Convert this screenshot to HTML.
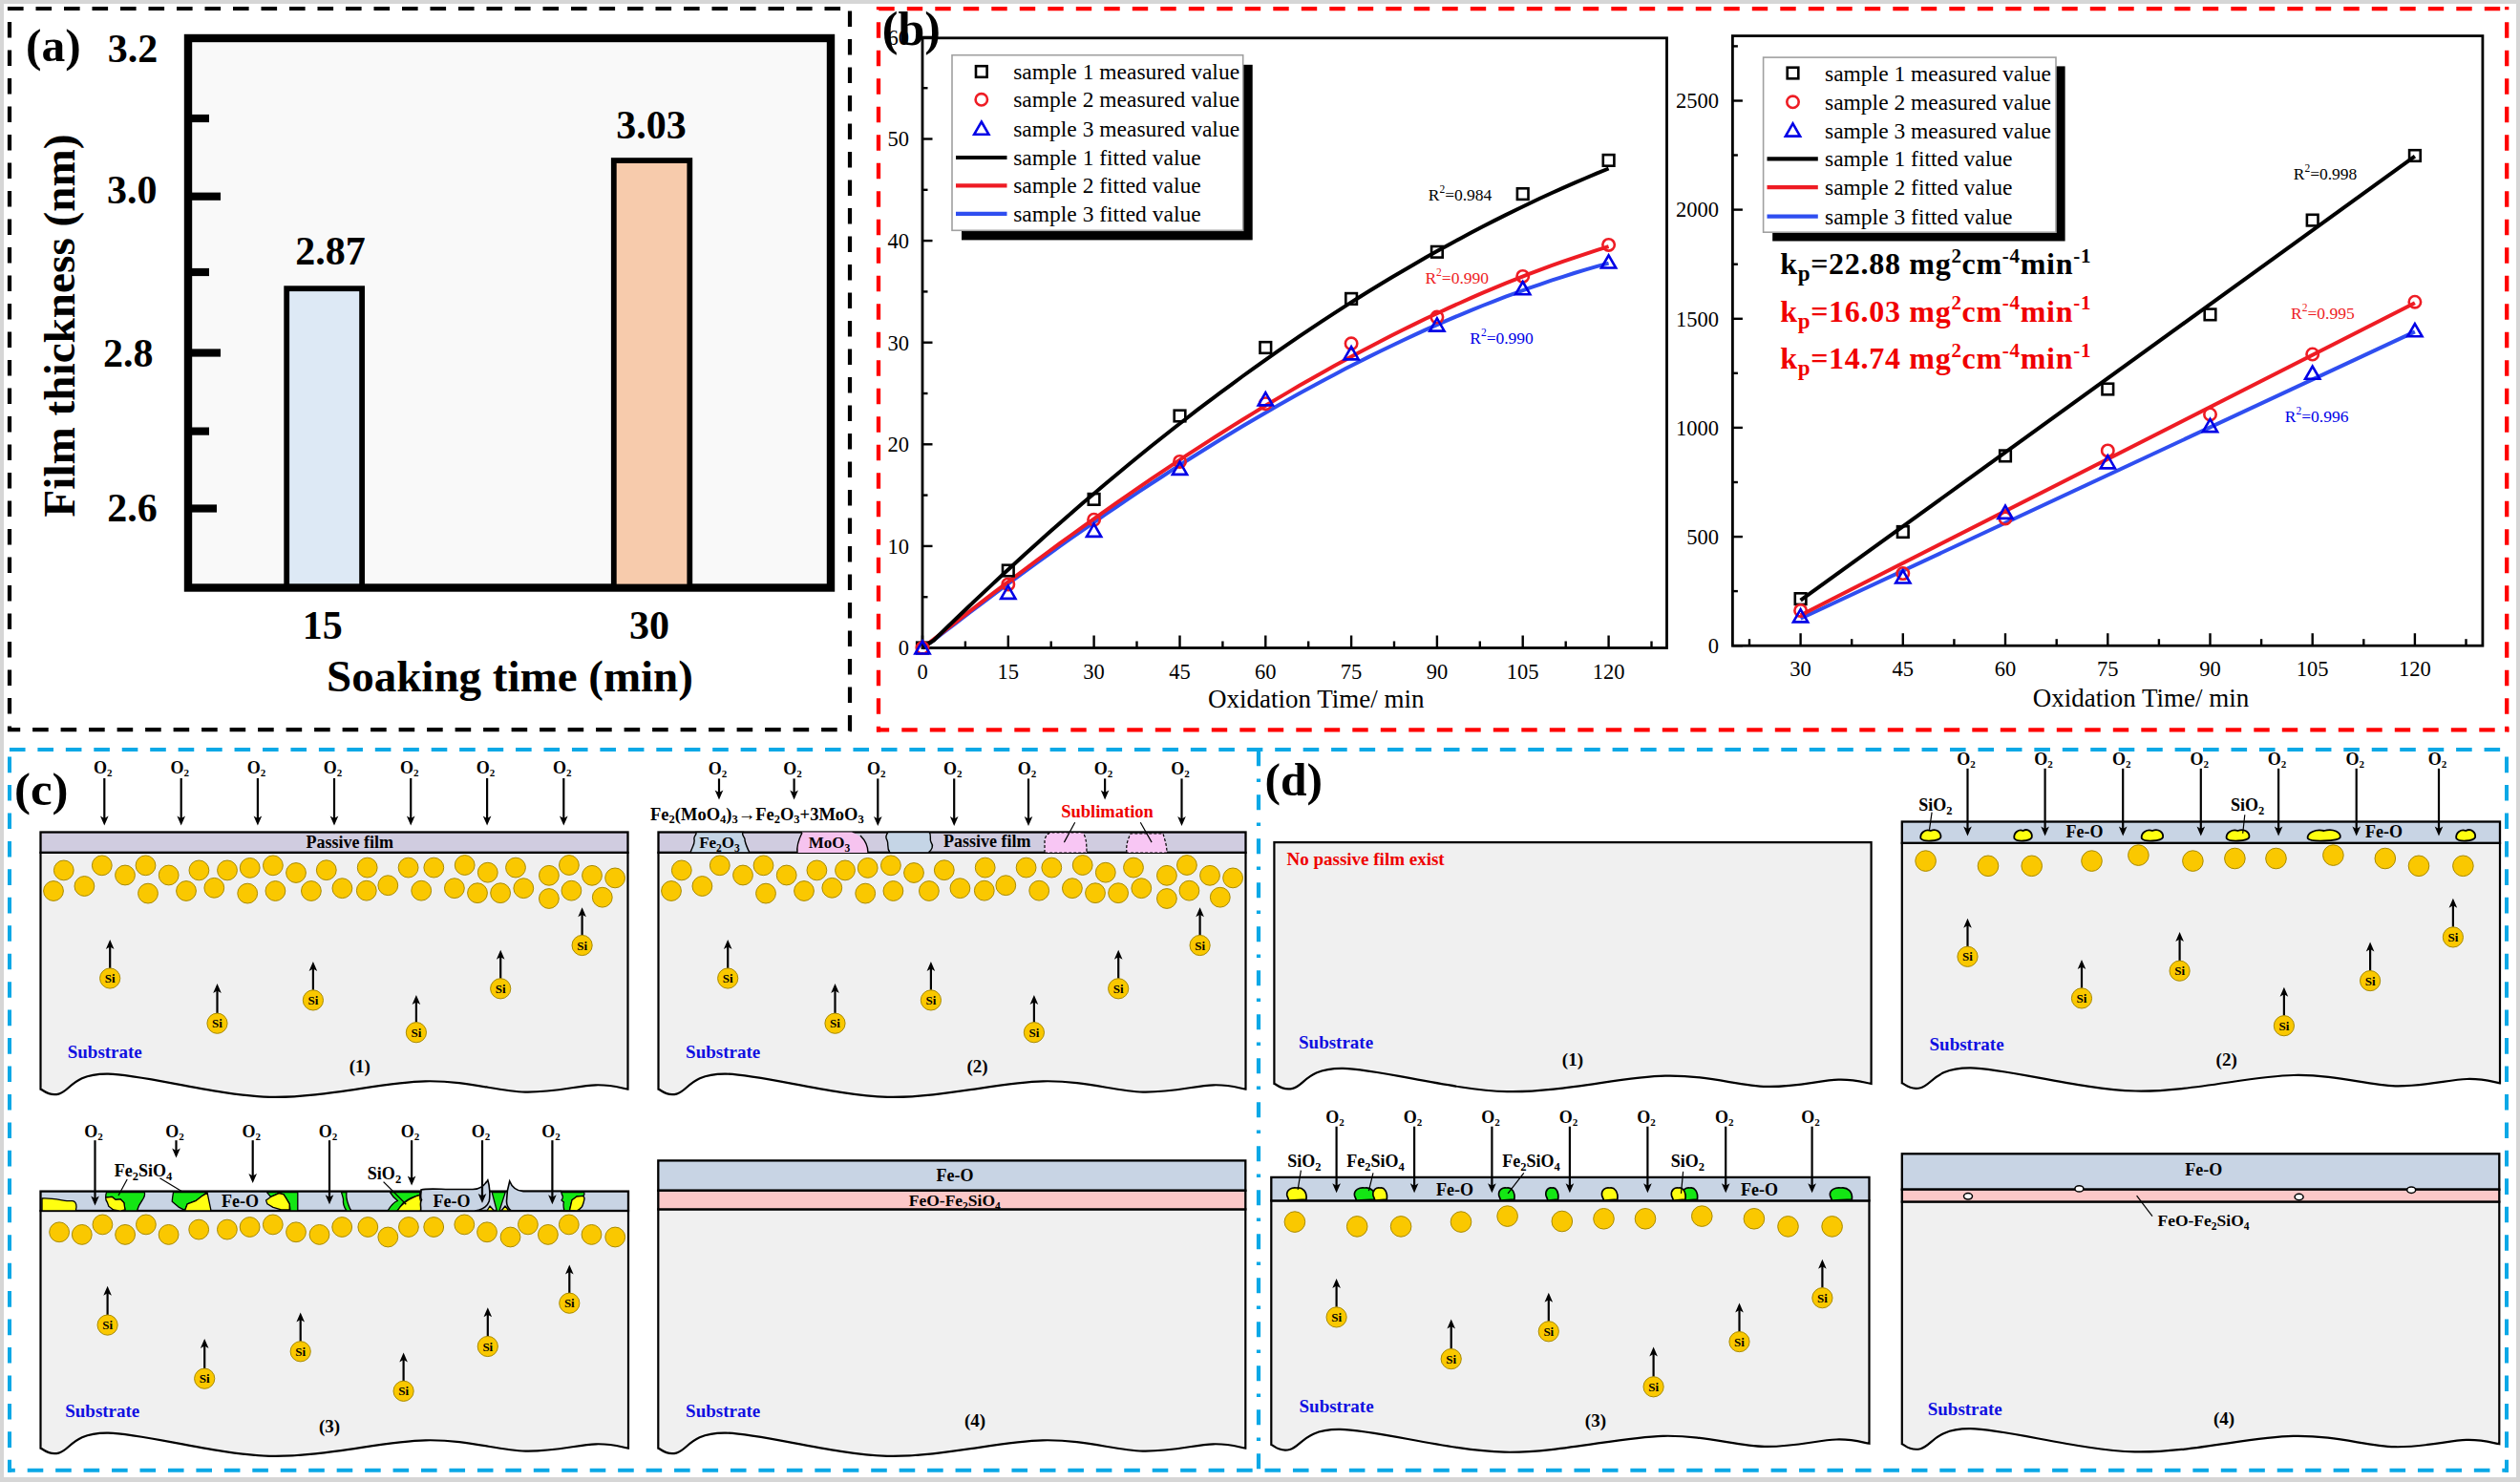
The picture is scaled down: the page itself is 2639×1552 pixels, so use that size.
<!DOCTYPE html>
<html><head><meta charset="utf-8"><style>
html,body{margin:0;padding:0;background:#fff;}
svg{display:block;}
text{font-family:"Liberation Serif","Times New Roman",serif;}
</style></head><body>
<svg width="2639" height="1552" viewBox="0 0 2639 1552">
<rect x="0" y="0" width="2639" height="1552" fill="#d6d6d6"/>
<rect x="4" y="4" width="2631" height="1543" fill="#fff"/>
<line x1="8" y1="9" x2="892" y2="9" stroke="#000" stroke-width="4.2" stroke-dasharray="16.6 12.9" stroke-dashoffset="0.00"/>
<line x1="8" y1="764.2" x2="892" y2="764.2" stroke="#000" stroke-width="4.2" stroke-dasharray="16.6 12.9" stroke-dashoffset="3.40"/>
<line x1="10" y1="7" x2="10" y2="766" stroke="#000" stroke-width="4.2" stroke-dasharray="16.6 12.9" stroke-dashoffset="13.50"/>
<line x1="890" y1="7" x2="890" y2="766.4" stroke="#000" stroke-width="4.2" stroke-dasharray="16.6 12.9" stroke-dashoffset="25.10"/>
<rect x="197" y="40" width="673" height="575.5" fill="#f9f9f9" stroke="#000" stroke-width="8.4"/>
<line x1="200" y1="124" x2="219" y2="124" stroke="#000" stroke-width="8.2"/>
<line x1="200" y1="205.7" x2="231" y2="205.7" stroke="#000" stroke-width="8.2"/>
<line x1="200" y1="285" x2="219" y2="285" stroke="#000" stroke-width="8.2"/>
<line x1="200" y1="369.5" x2="231" y2="369.5" stroke="#000" stroke-width="8.2"/>
<line x1="200" y1="451.6" x2="219" y2="451.6" stroke="#000" stroke-width="8.2"/>
<line x1="200" y1="532.5" x2="227" y2="532.5" stroke="#000" stroke-width="8.2"/>
<rect x="300.2" y="302.2" width="78.9" height="312" fill="#dde9f5" stroke="#000" stroke-width="5.8"/>
<rect x="642.8" y="168.1" width="79.5" height="446.4" fill="#f7cbac" stroke="#000" stroke-width="5.8"/>
<text x="139.0" y="65.3" font-size="42" font-weight="bold" fill="#000" text-anchor="middle" >3.2</text>
<text x="138.3" y="213.4" font-size="42" font-weight="bold" fill="#000" text-anchor="middle" >3.0</text>
<text x="134.3" y="384.3" font-size="42" font-weight="bold" fill="#000" text-anchor="middle" >2.8</text>
<text x="138.6" y="545.6" font-size="42" font-weight="bold" fill="#000" text-anchor="middle" >2.6</text>
<text x="346.0" y="277.0" font-size="42" font-weight="bold" fill="#000" text-anchor="middle" >2.87</text>
<text x="682.0" y="145.0" font-size="42" font-weight="bold" fill="#000" text-anchor="middle" >3.03</text>
<text x="337.8" y="669.0" font-size="42" font-weight="bold" fill="#000" text-anchor="middle" >15</text>
<text x="680.0" y="669.0" font-size="42" font-weight="bold" fill="#000" text-anchor="middle" >30</text>
<text x="534.0" y="724.3" font-size="47" font-weight="bold" fill="#000" text-anchor="middle" >Soaking time (min)</text>
<text transform="translate(78,341) rotate(-90)" x="0" y="0" font-size="47.2" font-weight="bold" text-anchor="middle">Film thickness (nm)</text>
<text x="27.0" y="64.4" font-size="49.5" font-weight="bold" fill="#000" text-anchor="start" >(a)</text>
<line x1="918" y1="9.1" x2="2627.4" y2="9.1" stroke="#ff0000" stroke-width="4.3" stroke-dasharray="16.4 13.1" stroke-dashoffset="27.20"/>
<line x1="918" y1="764.4" x2="2627.4" y2="764.4" stroke="#ff0000" stroke-width="4.3" stroke-dasharray="16.4 13.1" stroke-dashoffset="3.20"/>
<line x1="920" y1="7" x2="920" y2="766.6" stroke="#ff0000" stroke-width="4.3" stroke-dasharray="16.4 13.1" stroke-dashoffset="13.20"/>
<line x1="2625.2" y1="7" x2="2625.2" y2="766.6" stroke="#ff0000" stroke-width="4.3" stroke-dasharray="16.4 13.1" stroke-dashoffset="13.20"/>
<rect x="966" y="39.8" width="779.5" height="638.7" fill="none" stroke="#000" stroke-width="2.8"/>
<line x1="966.0" y1="678.5" x2="966.0" y2="665.5" stroke="#000" stroke-width="2.4"/>
<text x="966.0" y="710.5" font-size="22.5" font-weight="normal" fill="#000" text-anchor="middle" >0</text>
<line x1="1010.9" y1="678.5" x2="1010.9" y2="671.5" stroke="#000" stroke-width="2.4"/>
<line x1="1055.8" y1="678.5" x2="1055.8" y2="665.5" stroke="#000" stroke-width="2.4"/>
<text x="1055.8" y="710.5" font-size="22.5" font-weight="normal" fill="#000" text-anchor="middle" >15</text>
<line x1="1100.7" y1="678.5" x2="1100.7" y2="671.5" stroke="#000" stroke-width="2.4"/>
<line x1="1145.6" y1="678.5" x2="1145.6" y2="665.5" stroke="#000" stroke-width="2.4"/>
<text x="1145.6" y="710.5" font-size="22.5" font-weight="normal" fill="#000" text-anchor="middle" >30</text>
<line x1="1190.5" y1="678.5" x2="1190.5" y2="671.5" stroke="#000" stroke-width="2.4"/>
<line x1="1235.5" y1="678.5" x2="1235.5" y2="665.5" stroke="#000" stroke-width="2.4"/>
<text x="1235.5" y="710.5" font-size="22.5" font-weight="normal" fill="#000" text-anchor="middle" >45</text>
<line x1="1280.4" y1="678.5" x2="1280.4" y2="671.5" stroke="#000" stroke-width="2.4"/>
<line x1="1325.3" y1="678.5" x2="1325.3" y2="665.5" stroke="#000" stroke-width="2.4"/>
<text x="1325.3" y="710.5" font-size="22.5" font-weight="normal" fill="#000" text-anchor="middle" >60</text>
<line x1="1370.2" y1="678.5" x2="1370.2" y2="671.5" stroke="#000" stroke-width="2.4"/>
<line x1="1415.1" y1="678.5" x2="1415.1" y2="665.5" stroke="#000" stroke-width="2.4"/>
<text x="1415.1" y="710.5" font-size="22.5" font-weight="normal" fill="#000" text-anchor="middle" >75</text>
<line x1="1460.0" y1="678.5" x2="1460.0" y2="671.5" stroke="#000" stroke-width="2.4"/>
<line x1="1504.9" y1="678.5" x2="1504.9" y2="665.5" stroke="#000" stroke-width="2.4"/>
<text x="1504.9" y="710.5" font-size="22.5" font-weight="normal" fill="#000" text-anchor="middle" >90</text>
<line x1="1549.8" y1="678.5" x2="1549.8" y2="671.5" stroke="#000" stroke-width="2.4"/>
<line x1="1594.7" y1="678.5" x2="1594.7" y2="665.5" stroke="#000" stroke-width="2.4"/>
<text x="1594.7" y="710.5" font-size="22.5" font-weight="normal" fill="#000" text-anchor="middle" >105</text>
<line x1="1639.7" y1="678.5" x2="1639.7" y2="671.5" stroke="#000" stroke-width="2.4"/>
<line x1="1684.6" y1="678.5" x2="1684.6" y2="665.5" stroke="#000" stroke-width="2.4"/>
<text x="1684.6" y="710.5" font-size="22.5" font-weight="normal" fill="#000" text-anchor="middle" >120</text>
<line x1="1729.5" y1="678.5" x2="1729.5" y2="671.5" stroke="#000" stroke-width="2.4"/>
<line x1="966" y1="678.5" x2="976.5" y2="678.5" stroke="#000" stroke-width="2.4"/>
<text x="952.0" y="686.3" font-size="22.5" font-weight="normal" fill="#000" text-anchor="end" >0</text>
<line x1="966" y1="625.2" x2="971.5" y2="625.2" stroke="#000" stroke-width="2.4"/>
<line x1="966" y1="571.9" x2="976.5" y2="571.9" stroke="#000" stroke-width="2.4"/>
<text x="952.0" y="579.7" font-size="22.5" font-weight="normal" fill="#000" text-anchor="end" >10</text>
<line x1="966" y1="518.6" x2="971.5" y2="518.6" stroke="#000" stroke-width="2.4"/>
<line x1="966" y1="465.3" x2="976.5" y2="465.3" stroke="#000" stroke-width="2.4"/>
<text x="952.0" y="473.1" font-size="22.5" font-weight="normal" fill="#000" text-anchor="end" >20</text>
<line x1="966" y1="412.0" x2="971.5" y2="412.0" stroke="#000" stroke-width="2.4"/>
<line x1="966" y1="358.7" x2="976.5" y2="358.7" stroke="#000" stroke-width="2.4"/>
<text x="952.0" y="366.5" font-size="22.5" font-weight="normal" fill="#000" text-anchor="end" >30</text>
<line x1="966" y1="305.4" x2="971.5" y2="305.4" stroke="#000" stroke-width="2.4"/>
<line x1="966" y1="252.1" x2="976.5" y2="252.1" stroke="#000" stroke-width="2.4"/>
<text x="952.0" y="259.9" font-size="22.5" font-weight="normal" fill="#000" text-anchor="end" >40</text>
<line x1="966" y1="198.8" x2="971.5" y2="198.8" stroke="#000" stroke-width="2.4"/>
<line x1="966" y1="145.5" x2="976.5" y2="145.5" stroke="#000" stroke-width="2.4"/>
<text x="952.0" y="153.3" font-size="22.5" font-weight="normal" fill="#000" text-anchor="end" >50</text>
<line x1="966" y1="92.2" x2="971.5" y2="92.2" stroke="#000" stroke-width="2.4"/>
<line x1="966" y1="38.9" x2="976.5" y2="38.9" stroke="#000" stroke-width="2.4"/>
<text x="952.0" y="46.7" font-size="22.5" font-weight="normal" fill="#000" text-anchor="end" >60</text>
<text x="1378.2" y="741.4" font-size="27" font-weight="normal" fill="#000" text-anchor="middle" >Oxidation Time/ min</text>
<path d="M966.0,678.5 L978.0,670.2 L990.0,661.0 L1001.9,651.8 L1013.9,642.7 L1025.9,633.6 L1037.9,624.7 L1049.8,615.7 L1061.8,606.9 L1073.8,598.1 L1085.8,589.4 L1097.7,580.8 L1109.7,572.2 L1121.7,563.7 L1133.7,555.3 L1145.6,547.0 L1157.6,538.7 L1169.6,530.5 L1181.6,522.4 L1193.5,514.4 L1205.5,506.5 L1217.5,498.7 L1229.5,490.9 L1241.4,483.2 L1253.4,475.7 L1265.4,468.2 L1277.4,460.8 L1289.4,453.5 L1301.3,446.3 L1313.3,439.2 L1325.3,432.2 L1337.3,425.3 L1349.2,418.5 L1361.2,411.8 L1373.2,405.2 L1385.2,398.8 L1397.1,392.4 L1409.1,386.1 L1421.1,380.0 L1433.1,373.9 L1445.0,368.0 L1457.0,362.2 L1469.0,356.5 L1481.0,350.9 L1492.9,345.4 L1504.9,340.1 L1516.9,334.9 L1528.9,329.8 L1540.8,324.8 L1552.8,320.0 L1564.8,315.3 L1576.8,310.7 L1588.8,306.3 L1600.7,301.9 L1612.7,297.8 L1624.7,293.7 L1636.7,289.8 L1648.6,286.0 L1660.6,282.4 L1672.6,278.9 L1684.6,275.6" fill="none" stroke="#2f4ef0" stroke-width="4" stroke-linejoin="round"/>
<path d="M966.0,678.5 L978.0,669.4 L990.0,660.0 L1001.9,650.7 L1013.9,641.4 L1025.9,632.1 L1037.9,622.9 L1049.8,613.8 L1061.8,604.8 L1073.8,595.8 L1085.8,586.9 L1097.7,578.0 L1109.7,569.2 L1121.7,560.5 L1133.7,551.9 L1145.6,543.3 L1157.6,534.8 L1169.6,526.4 L1181.6,518.1 L1193.5,509.9 L1205.5,501.7 L1217.5,493.6 L1229.5,485.6 L1241.4,477.7 L1253.4,469.9 L1265.4,462.1 L1277.4,454.5 L1289.4,446.9 L1301.3,439.5 L1313.3,432.1 L1325.3,424.8 L1337.3,417.6 L1349.2,410.6 L1361.2,403.6 L1373.2,396.7 L1385.2,389.9 L1397.1,383.3 L1409.1,376.7 L1421.1,370.2 L1433.1,363.9 L1445.0,357.7 L1457.0,351.5 L1469.0,345.5 L1481.0,339.6 L1492.9,333.8 L1504.9,328.2 L1516.9,322.6 L1528.9,317.2 L1540.8,311.9 L1552.8,306.7 L1564.8,301.6 L1576.8,296.7 L1588.8,291.9 L1600.7,287.2 L1612.7,282.6 L1624.7,278.2 L1636.7,273.9 L1648.6,269.8 L1660.6,265.8 L1672.6,261.9 L1684.6,258.1" fill="none" stroke="#ee1c24" stroke-width="4" stroke-linejoin="round"/>
<path d="M966.0,678.5 L978.0,670.5 L990.0,658.8 L1001.9,647.2 L1013.9,635.8 L1025.9,624.4 L1037.9,613.1 L1049.8,602.0 L1061.8,591.0 L1073.8,580.1 L1085.8,569.2 L1097.7,558.6 L1109.7,548.0 L1121.7,537.5 L1133.7,527.1 L1145.6,516.9 L1157.6,506.7 L1169.6,496.7 L1181.6,486.8 L1193.5,477.0 L1205.5,467.3 L1217.5,457.8 L1229.5,448.3 L1241.4,439.0 L1253.4,429.7 L1265.4,420.6 L1277.4,411.6 L1289.4,402.8 L1301.3,394.0 L1313.3,385.4 L1325.3,376.8 L1337.3,368.4 L1349.2,360.1 L1361.2,351.9 L1373.2,343.9 L1385.2,335.9 L1397.1,328.1 L1409.1,320.4 L1421.1,312.8 L1433.1,305.3 L1445.0,298.0 L1457.0,290.8 L1469.0,283.7 L1481.0,276.7 L1492.9,269.8 L1504.9,263.1 L1516.9,256.4 L1528.9,249.9 L1540.8,243.5 L1552.8,237.3 L1564.8,231.1 L1576.8,225.1 L1588.8,219.2 L1600.7,213.5 L1612.7,207.8 L1624.7,202.3 L1636.7,196.9 L1648.6,191.6 L1660.6,186.5 L1672.6,181.4 L1684.6,176.5" fill="none" stroke="#000" stroke-width="4" stroke-linejoin="round"/>
<rect x="960.2" y="672.7" width="11.6" height="11.6" fill="none" stroke="#000" stroke-width="2.6"/>
<rect x="1050.0" y="591.7" width="11.6" height="11.6" fill="none" stroke="#000" stroke-width="2.6"/>
<rect x="1139.8" y="517.1" width="11.6" height="11.6" fill="none" stroke="#000" stroke-width="2.6"/>
<rect x="1229.7" y="429.7" width="11.6" height="11.6" fill="none" stroke="#000" stroke-width="2.6"/>
<rect x="1319.5" y="358.2" width="11.6" height="11.6" fill="none" stroke="#000" stroke-width="2.6"/>
<rect x="1409.3" y="307.1" width="11.6" height="11.6" fill="none" stroke="#000" stroke-width="2.6"/>
<rect x="1499.1" y="258.0" width="11.6" height="11.6" fill="none" stroke="#000" stroke-width="2.6"/>
<rect x="1588.9" y="197.3" width="11.6" height="11.6" fill="none" stroke="#000" stroke-width="2.6"/>
<rect x="1678.8" y="162.1" width="11.6" height="11.6" fill="none" stroke="#000" stroke-width="2.6"/>
<circle cx="966.0" cy="678.5" r="6.2" fill="none" stroke="#ee1c24" stroke-width="2.6"/>
<circle cx="1055.8" cy="611.9" r="6.2" fill="none" stroke="#ee1c24" stroke-width="2.6"/>
<circle cx="1145.6" cy="544.2" r="6.2" fill="none" stroke="#ee1c24" stroke-width="2.6"/>
<circle cx="1235.5" cy="483.4" r="6.2" fill="none" stroke="#ee1c24" stroke-width="2.6"/>
<circle cx="1325.3" cy="422.7" r="6.2" fill="none" stroke="#ee1c24" stroke-width="2.6"/>
<circle cx="1415.1" cy="359.8" r="6.2" fill="none" stroke="#ee1c24" stroke-width="2.6"/>
<circle cx="1504.9" cy="332.1" r="6.2" fill="none" stroke="#ee1c24" stroke-width="2.6"/>
<circle cx="1594.7" cy="289.4" r="6.2" fill="none" stroke="#ee1c24" stroke-width="2.6"/>
<circle cx="1684.6" cy="256.4" r="6.2" fill="none" stroke="#ee1c24" stroke-width="2.6"/>
<path d="M966.0,671.3 L973.6,684.5 L958.4,684.5 Z" fill="none" stroke="#0000e6" stroke-width="2.6" stroke-linejoin="miter"/>
<path d="M1055.8,613.7 L1063.4,626.9 L1048.2,626.9 Z" fill="none" stroke="#0000e6" stroke-width="2.6" stroke-linejoin="miter"/>
<path d="M1145.6,548.7 L1153.2,561.9 L1138.0,561.9 Z" fill="none" stroke="#0000e6" stroke-width="2.6" stroke-linejoin="miter"/>
<path d="M1235.5,483.7 L1243.1,496.9 L1227.9,496.9 Z" fill="none" stroke="#0000e6" stroke-width="2.6" stroke-linejoin="miter"/>
<path d="M1325.3,411.2 L1332.9,424.4 L1317.7,424.4 Z" fill="none" stroke="#0000e6" stroke-width="2.6" stroke-linejoin="miter"/>
<path d="M1415.1,363.2 L1422.7,376.4 L1407.5,376.4 Z" fill="none" stroke="#0000e6" stroke-width="2.6" stroke-linejoin="miter"/>
<path d="M1504.9,333.4 L1512.5,346.6 L1497.3,346.6 Z" fill="none" stroke="#0000e6" stroke-width="2.6" stroke-linejoin="miter"/>
<path d="M1594.7,295.0 L1602.3,308.2 L1587.1,308.2 Z" fill="none" stroke="#0000e6" stroke-width="2.6" stroke-linejoin="miter"/>
<path d="M1684.6,267.3 L1692.2,280.5 L1677.0,280.5 Z" fill="none" stroke="#0000e6" stroke-width="2.6" stroke-linejoin="miter"/>
<rect x="1007" y="67.8" width="304.70000000000005" height="183.60000000000002" fill="#000"/>
<rect x="997" y="57.7" width="304.70000000000005" height="183.60000000000002" fill="#fff" stroke="#a0a0a0" stroke-width="1.6"/>
<text x="1061.2" y="83.0" font-size="23.5" font-weight="normal" fill="#000" text-anchor="start" >sample 1 measured value</text>
<rect x="1022.0" y="69.2" width="11.6" height="11.6" fill="none" stroke="#000" stroke-width="2.6"/>
<text x="1061.2" y="112.3" font-size="23.5" font-weight="normal" fill="#000" text-anchor="start" >sample 2 measured value</text>
<circle cx="1027.8" cy="104.3" r="6.2" fill="none" stroke="#ee1c24" stroke-width="2.6"/>
<text x="1061.2" y="142.7" font-size="23.5" font-weight="normal" fill="#000" text-anchor="start" >sample 3 measured value</text>
<path d="M1027.8,127.5 L1035.4,140.7 L1020.2,140.7 Z" fill="none" stroke="#0000e6" stroke-width="2.6" stroke-linejoin="miter"/>
<text x="1061.2" y="173.0" font-size="23.5" font-weight="normal" fill="#000" text-anchor="start" >sample 1 fitted value</text>
<line x1="1001" y1="165" x2="1054.5" y2="165" stroke="#000" stroke-width="4.2"/>
<text x="1061.2" y="202.4" font-size="23.5" font-weight="normal" fill="#000" text-anchor="start" >sample 2 fitted value</text>
<line x1="1001" y1="194.4" x2="1054.5" y2="194.4" stroke="#ee1c24" stroke-width="4.2"/>
<text x="1061.2" y="231.8" font-size="23.5" font-weight="normal" fill="#000" text-anchor="start" >sample 3 fitted value</text>
<line x1="1001" y1="223.8" x2="1054.5" y2="223.8" stroke="#2f4ef0" stroke-width="4.2"/>
<text x="1495.7" y="210.3" font-size="17.5" font-weight="normal" fill="#000" text-anchor="start" >R<tspan dy="-8" font-size="11.5">2</tspan><tspan dy="8">=0.984</tspan></text>
<text x="1492.4" y="296.5" font-size="17.5" font-weight="normal" fill="#ee1c24" text-anchor="start" >R<tspan dy="-8" font-size="11.5">2</tspan><tspan dy="8">=0.990</tspan></text>
<text x="1539.2" y="360.0" font-size="17.5" font-weight="normal" fill="#0000e6" text-anchor="start" >R<tspan dy="-8" font-size="11.5">2</tspan><tspan dy="8">=0.990</tspan></text>
<rect x="1814.4" y="37.6" width="785.5" height="638.6" fill="none" stroke="#000" stroke-width="2.8"/>
<line x1="1832.0" y1="676.2" x2="1832.0" y2="669.2" stroke="#000" stroke-width="2.4"/>
<line x1="1885.6" y1="676.2" x2="1885.6" y2="663.2" stroke="#000" stroke-width="2.4"/>
<text x="1885.6" y="708.2" font-size="22.5" font-weight="normal" fill="#000" text-anchor="middle" >30</text>
<line x1="1939.2" y1="676.2" x2="1939.2" y2="669.2" stroke="#000" stroke-width="2.4"/>
<line x1="1992.8" y1="676.2" x2="1992.8" y2="663.2" stroke="#000" stroke-width="2.4"/>
<text x="1992.8" y="708.2" font-size="22.5" font-weight="normal" fill="#000" text-anchor="middle" >45</text>
<line x1="2046.4" y1="676.2" x2="2046.4" y2="669.2" stroke="#000" stroke-width="2.4"/>
<line x1="2100.0" y1="676.2" x2="2100.0" y2="663.2" stroke="#000" stroke-width="2.4"/>
<text x="2100.0" y="708.2" font-size="22.5" font-weight="normal" fill="#000" text-anchor="middle" >60</text>
<line x1="2153.7" y1="676.2" x2="2153.7" y2="669.2" stroke="#000" stroke-width="2.4"/>
<line x1="2207.3" y1="676.2" x2="2207.3" y2="663.2" stroke="#000" stroke-width="2.4"/>
<text x="2207.3" y="708.2" font-size="22.5" font-weight="normal" fill="#000" text-anchor="middle" >75</text>
<line x1="2260.9" y1="676.2" x2="2260.9" y2="669.2" stroke="#000" stroke-width="2.4"/>
<line x1="2314.5" y1="676.2" x2="2314.5" y2="663.2" stroke="#000" stroke-width="2.4"/>
<text x="2314.5" y="708.2" font-size="22.5" font-weight="normal" fill="#000" text-anchor="middle" >90</text>
<line x1="2368.1" y1="676.2" x2="2368.1" y2="669.2" stroke="#000" stroke-width="2.4"/>
<line x1="2421.7" y1="676.2" x2="2421.7" y2="663.2" stroke="#000" stroke-width="2.4"/>
<text x="2421.7" y="708.2" font-size="22.5" font-weight="normal" fill="#000" text-anchor="middle" >105</text>
<line x1="2475.3" y1="676.2" x2="2475.3" y2="669.2" stroke="#000" stroke-width="2.4"/>
<line x1="2528.9" y1="676.2" x2="2528.9" y2="663.2" stroke="#000" stroke-width="2.4"/>
<text x="2528.9" y="708.2" font-size="22.5" font-weight="normal" fill="#000" text-anchor="middle" >120</text>
<line x1="2582.5" y1="676.2" x2="2582.5" y2="669.2" stroke="#000" stroke-width="2.4"/>
<line x1="1814.4" y1="676.2" x2="1824.9" y2="676.2" stroke="#000" stroke-width="2.4"/>
<text x="1800.0" y="684.0" font-size="22.5" font-weight="normal" fill="#000" text-anchor="end" >0</text>
<line x1="1814.4" y1="619.1" x2="1819.9" y2="619.1" stroke="#000" stroke-width="2.4"/>
<line x1="1814.4" y1="562.1" x2="1824.9" y2="562.1" stroke="#000" stroke-width="2.4"/>
<text x="1800.0" y="569.9" font-size="22.5" font-weight="normal" fill="#000" text-anchor="end" >500</text>
<line x1="1814.4" y1="505.0" x2="1819.9" y2="505.0" stroke="#000" stroke-width="2.4"/>
<line x1="1814.4" y1="447.9" x2="1824.9" y2="447.9" stroke="#000" stroke-width="2.4"/>
<text x="1800.0" y="455.7" font-size="22.5" font-weight="normal" fill="#000" text-anchor="end" >1000</text>
<line x1="1814.4" y1="390.8" x2="1819.9" y2="390.8" stroke="#000" stroke-width="2.4"/>
<line x1="1814.4" y1="333.8" x2="1824.9" y2="333.8" stroke="#000" stroke-width="2.4"/>
<text x="1800.0" y="341.6" font-size="22.5" font-weight="normal" fill="#000" text-anchor="end" >1500</text>
<line x1="1814.4" y1="276.7" x2="1819.9" y2="276.7" stroke="#000" stroke-width="2.4"/>
<line x1="1814.4" y1="219.6" x2="1824.9" y2="219.6" stroke="#000" stroke-width="2.4"/>
<text x="1800.0" y="227.4" font-size="22.5" font-weight="normal" fill="#000" text-anchor="end" >2000</text>
<line x1="1814.4" y1="162.5" x2="1819.9" y2="162.5" stroke="#000" stroke-width="2.4"/>
<line x1="1814.4" y1="105.5" x2="1824.9" y2="105.5" stroke="#000" stroke-width="2.4"/>
<text x="1800.0" y="113.3" font-size="22.5" font-weight="normal" fill="#000" text-anchor="end" >2500</text>
<line x1="1814.4" y1="48.4" x2="1819.9" y2="48.4" stroke="#000" stroke-width="2.4"/>
<text x="2242.0" y="739.8" font-size="27" font-weight="normal" fill="#000" text-anchor="middle" >Oxidation Time/ min</text>
<line x1="1885.6" y1="647.7" x2="2528.9" y2="347.4" stroke="#2f4ef0" stroke-width="4"/>
<line x1="1885.6" y1="644.2" x2="2528.9" y2="317.3" stroke="#ee1c24" stroke-width="4"/>
<line x1="1885.6" y1="628.7" x2="2528.9" y2="163.7" stroke="#000" stroke-width="4"/>
<rect x="1879.8" y="621.3" width="11.6" height="11.6" fill="none" stroke="#000" stroke-width="2.6"/>
<rect x="1987.0" y="551.2" width="11.6" height="11.6" fill="none" stroke="#000" stroke-width="2.6"/>
<rect x="2094.2" y="471.6" width="11.6" height="11.6" fill="none" stroke="#000" stroke-width="2.6"/>
<rect x="2201.5" y="401.7" width="11.6" height="11.6" fill="none" stroke="#000" stroke-width="2.6"/>
<rect x="2308.7" y="323.6" width="11.6" height="11.6" fill="none" stroke="#000" stroke-width="2.6"/>
<rect x="2415.9" y="224.8" width="11.6" height="11.6" fill="none" stroke="#000" stroke-width="2.6"/>
<rect x="2523.1" y="157.2" width="11.6" height="11.6" fill="none" stroke="#000" stroke-width="2.6"/>
<circle cx="1885.6" cy="639.4" r="6.2" fill="none" stroke="#ee1c24" stroke-width="2.6"/>
<circle cx="1992.8" cy="600.6" r="6.2" fill="none" stroke="#ee1c24" stroke-width="2.6"/>
<circle cx="2100.0" cy="542.9" r="6.2" fill="none" stroke="#ee1c24" stroke-width="2.6"/>
<circle cx="2207.3" cy="471.9" r="6.2" fill="none" stroke="#ee1c24" stroke-width="2.6"/>
<circle cx="2314.5" cy="434.0" r="6.2" fill="none" stroke="#ee1c24" stroke-width="2.6"/>
<circle cx="2421.7" cy="371.0" r="6.2" fill="none" stroke="#ee1c24" stroke-width="2.6"/>
<circle cx="2528.9" cy="316.2" r="6.2" fill="none" stroke="#ee1c24" stroke-width="2.6"/>
<path d="M1885.6,638.2 L1893.2,651.4 L1878.0,651.4 Z" fill="none" stroke="#0000e6" stroke-width="2.6" stroke-linejoin="miter"/>
<path d="M1992.8,597.3 L2000.4,610.5 L1985.2,610.5 Z" fill="none" stroke="#0000e6" stroke-width="2.6" stroke-linejoin="miter"/>
<path d="M2100.0,529.7 L2107.6,542.9 L2092.4,542.9 Z" fill="none" stroke="#0000e6" stroke-width="2.6" stroke-linejoin="miter"/>
<path d="M2207.3,477.2 L2214.9,490.4 L2199.7,490.4 Z" fill="none" stroke="#0000e6" stroke-width="2.6" stroke-linejoin="miter"/>
<path d="M2314.5,438.9 L2322.1,452.1 L2306.9,452.1 Z" fill="none" stroke="#0000e6" stroke-width="2.6" stroke-linejoin="miter"/>
<path d="M2421.7,383.6 L2429.3,396.8 L2414.1,396.8 Z" fill="none" stroke="#0000e6" stroke-width="2.6" stroke-linejoin="miter"/>
<path d="M2528.9,339.1 L2536.5,352.3 L2521.3,352.3 Z" fill="none" stroke="#0000e6" stroke-width="2.6" stroke-linejoin="miter"/>
<rect x="1856.2" y="69.4" width="306.4000000000001" height="183.1" fill="#000"/>
<rect x="1846.6" y="60.1" width="306.4000000000001" height="183.1" fill="#fff" stroke="#a0a0a0" stroke-width="1.6"/>
<text x="1911.0" y="84.5" font-size="23.5" font-weight="normal" fill="#000" text-anchor="start" >sample 1 measured value</text>
<rect x="1871.7" y="70.7" width="11.6" height="11.6" fill="none" stroke="#000" stroke-width="2.6"/>
<text x="1911.0" y="114.8" font-size="23.5" font-weight="normal" fill="#000" text-anchor="start" >sample 2 measured value</text>
<circle cx="1877.5" cy="106.8" r="6.2" fill="none" stroke="#ee1c24" stroke-width="2.6"/>
<text x="1911.0" y="144.6" font-size="23.5" font-weight="normal" fill="#000" text-anchor="start" >sample 3 measured value</text>
<path d="M1877.5,129.4 L1885.1,142.6 L1869.9,142.6 Z" fill="none" stroke="#0000e6" stroke-width="2.6" stroke-linejoin="miter"/>
<text x="1911.0" y="174.3" font-size="23.5" font-weight="normal" fill="#000" text-anchor="start" >sample 1 fitted value</text>
<line x1="1850.5" y1="166.3" x2="1903.8" y2="166.3" stroke="#000" stroke-width="4.2"/>
<text x="1911.0" y="204.1" font-size="23.5" font-weight="normal" fill="#000" text-anchor="start" >sample 2 fitted value</text>
<line x1="1850.5" y1="196.1" x2="1903.8" y2="196.1" stroke="#ee1c24" stroke-width="4.2"/>
<text x="1911.0" y="234.7" font-size="23.5" font-weight="normal" fill="#000" text-anchor="start" >sample 3 fitted value</text>
<line x1="1850.5" y1="226.7" x2="1903.8" y2="226.7" stroke="#2f4ef0" stroke-width="4.2"/>
<text x="2401.7" y="187.7" font-size="17.5" font-weight="normal" fill="#000" text-anchor="start" >R<tspan dy="-8" font-size="11.5">2</tspan><tspan dy="8">=0.998</tspan></text>
<text x="2399.0" y="333.7" font-size="17.5" font-weight="normal" fill="#ee1c24" text-anchor="start" >R<tspan dy="-8" font-size="11.5">2</tspan><tspan dy="8">=0.995</tspan></text>
<text x="2392.8" y="441.5" font-size="17.5" font-weight="normal" fill="#0000e6" text-anchor="start" >R<tspan dy="-8" font-size="11.5">2</tspan><tspan dy="8">=0.996</tspan></text>
<text x="1864.2" y="287.0" font-size="32" font-weight="bold" fill="#000" text-anchor="start" letter-spacing="0.7">k<tspan font-size="23" dy="7">p</tspan><tspan dy="-7">=22.88 mg</tspan><tspan font-size="21" dy="-12.5">2</tspan><tspan dy="12.5">cm</tspan><tspan font-size="21" dy="-12.5">-4</tspan><tspan dy="12.5">min</tspan><tspan font-size="21" dy="-12.5">-1</tspan></text>
<text x="1864.2" y="336.6" font-size="32" font-weight="bold" fill="#f00000" text-anchor="start" letter-spacing="0.7">k<tspan font-size="23" dy="7">p</tspan><tspan dy="-7">=16.03 mg</tspan><tspan font-size="21" dy="-12.5">2</tspan><tspan dy="12.5">cm</tspan><tspan font-size="21" dy="-12.5">-4</tspan><tspan dy="12.5">min</tspan><tspan font-size="21" dy="-12.5">-1</tspan></text>
<text x="1864.2" y="386.3" font-size="32" font-weight="bold" fill="#f00000" text-anchor="start" letter-spacing="0.7">k<tspan font-size="23" dy="7">p</tspan><tspan dy="-7">=14.74 mg</tspan><tspan font-size="21" dy="-12.5">2</tspan><tspan dy="12.5">cm</tspan><tspan font-size="21" dy="-12.5">-4</tspan><tspan dy="12.5">min</tspan><tspan font-size="21" dy="-12.5">-1</tspan></text>
<text x="923.8" y="46.8" font-size="50" font-weight="bold" fill="#000" text-anchor="start" >(b)</text>
<line x1="8" y1="785" x2="2627" y2="785" stroke="#0aa8e6" stroke-width="3.9" stroke-dasharray="16.6 12.85" stroke-dashoffset="27.50"/>
<line x1="8" y1="1539.7" x2="2627" y2="1539.7" stroke="#0aa8e6" stroke-width="3.9" stroke-dasharray="16.6 12.85" stroke-dashoffset="8.75"/>
<line x1="10" y1="783" x2="10" y2="1541.7" stroke="#0aa8e6" stroke-width="4" stroke-dasharray="16.6 12.85" stroke-dashoffset="19.90"/>
<line x1="2625" y1="783" x2="2625" y2="1541.7" stroke="#0aa8e6" stroke-width="4" stroke-dasharray="16.6 12.85" stroke-dashoffset="19.90"/>
<path d="M1318,786.2 V1539" fill="none" stroke="#0aa8e6" stroke-width="4.2" stroke-dasharray="16 13.2 3.7 13.1"/>
<text x="15.0" y="843.5" font-size="49.5" font-weight="bold" fill="#000" text-anchor="start" transform="translate(15,0) scale(1.03,1) translate(-15,0)">(c)</text>
<path d="M42.5,892.8 L657.5,892.8 L657.5,1140.6 L657.5,1140.6 C651.9,1139.9 641.6,1135.8 623.7,1136.3 C605.7,1136.8 579.6,1144.3 549.9,1143.6 C520.1,1142.9 489.9,1131.4 445.3,1132.3 C400.7,1133.2 337.7,1150.1 282.4,1148.8 C227.0,1147.5 150.0,1125.1 113.2,1124.6 C76.4,1124.1 73.4,1142.9 61.6,1145.6 C49.8,1148.3 45.7,1141.4 42.5,1140.6 Z" fill="#f0f0f0" stroke="#000" stroke-width="2.2" stroke-linejoin="miter"/>
<rect x="42.5" y="871.5" width="615.0" height="21.299999999999955" fill="#d0cce0" stroke="#000" stroke-width="2.3"/>
<circle cx="56.0" cy="933.0" r="10.4" fill="#fac800" stroke="#a88a00" stroke-width="1"/>
<circle cx="66.8" cy="911.4" r="10.4" fill="#fac800" stroke="#a88a00" stroke-width="1"/>
<circle cx="88.4" cy="928.0" r="10.4" fill="#fac800" stroke="#a88a00" stroke-width="1"/>
<circle cx="106.8" cy="906.3" r="10.4" fill="#fac800" stroke="#a88a00" stroke-width="1"/>
<circle cx="131.0" cy="916.5" r="10.4" fill="#fac800" stroke="#a88a00" stroke-width="1"/>
<circle cx="152.5" cy="906.3" r="10.4" fill="#fac800" stroke="#a88a00" stroke-width="1"/>
<circle cx="155.0" cy="935.6" r="10.4" fill="#fac800" stroke="#a88a00" stroke-width="1"/>
<circle cx="176.7" cy="916.5" r="10.4" fill="#fac800" stroke="#a88a00" stroke-width="1"/>
<circle cx="195.0" cy="933.0" r="10.4" fill="#fac800" stroke="#a88a00" stroke-width="1"/>
<circle cx="208.4" cy="911.4" r="10.4" fill="#fac800" stroke="#a88a00" stroke-width="1"/>
<circle cx="224.3" cy="929.8" r="10.4" fill="#fac800" stroke="#a88a00" stroke-width="1"/>
<circle cx="238.0" cy="911.4" r="10.4" fill="#fac800" stroke="#a88a00" stroke-width="1"/>
<circle cx="259.2" cy="935.6" r="10.4" fill="#fac800" stroke="#a88a00" stroke-width="1"/>
<circle cx="261.7" cy="908.9" r="10.4" fill="#fac800" stroke="#a88a00" stroke-width="1"/>
<circle cx="285.9" cy="906.3" r="10.4" fill="#fac800" stroke="#a88a00" stroke-width="1"/>
<circle cx="288.4" cy="933.0" r="10.4" fill="#fac800" stroke="#a88a00" stroke-width="1"/>
<circle cx="310.0" cy="914.0" r="10.4" fill="#fac800" stroke="#a88a00" stroke-width="1"/>
<circle cx="325.9" cy="933.0" r="10.4" fill="#fac800" stroke="#a88a00" stroke-width="1"/>
<circle cx="341.8" cy="911.2" r="10.4" fill="#fac800" stroke="#a88a00" stroke-width="1"/>
<circle cx="358.4" cy="930.2" r="10.4" fill="#fac800" stroke="#a88a00" stroke-width="1"/>
<circle cx="384.7" cy="908.6" r="10.4" fill="#fac800" stroke="#a88a00" stroke-width="1"/>
<circle cx="383.8" cy="932.7" r="10.4" fill="#fac800" stroke="#a88a00" stroke-width="1"/>
<circle cx="406.3" cy="927.2" r="10.4" fill="#fac800" stroke="#a88a00" stroke-width="1"/>
<circle cx="427.6" cy="908.6" r="10.4" fill="#fac800" stroke="#a88a00" stroke-width="1"/>
<circle cx="441.2" cy="932.7" r="10.4" fill="#fac800" stroke="#a88a00" stroke-width="1"/>
<circle cx="454.3" cy="908.6" r="10.4" fill="#fac800" stroke="#a88a00" stroke-width="1"/>
<circle cx="475.9" cy="930.2" r="10.4" fill="#fac800" stroke="#a88a00" stroke-width="1"/>
<circle cx="486.7" cy="906.0" r="10.4" fill="#fac800" stroke="#a88a00" stroke-width="1"/>
<circle cx="500.0" cy="935.2" r="10.4" fill="#fac800" stroke="#a88a00" stroke-width="1"/>
<circle cx="510.8" cy="913.7" r="10.4" fill="#fac800" stroke="#a88a00" stroke-width="1"/>
<circle cx="524.1" cy="935.2" r="10.4" fill="#fac800" stroke="#a88a00" stroke-width="1"/>
<circle cx="540.0" cy="908.6" r="10.4" fill="#fac800" stroke="#a88a00" stroke-width="1"/>
<circle cx="548.3" cy="930.2" r="10.4" fill="#fac800" stroke="#a88a00" stroke-width="1"/>
<circle cx="574.9" cy="916.8" r="10.4" fill="#fac800" stroke="#a88a00" stroke-width="1"/>
<circle cx="574.9" cy="941.0" r="10.4" fill="#fac800" stroke="#a88a00" stroke-width="1"/>
<circle cx="595.9" cy="906.0" r="10.4" fill="#fac800" stroke="#a88a00" stroke-width="1"/>
<circle cx="598.4" cy="932.7" r="10.4" fill="#fac800" stroke="#a88a00" stroke-width="1"/>
<circle cx="620.0" cy="916.8" r="10.4" fill="#fac800" stroke="#a88a00" stroke-width="1"/>
<circle cx="630.8" cy="939.7" r="10.4" fill="#fac800" stroke="#a88a00" stroke-width="1"/>
<circle cx="644.1" cy="919.4" r="10.4" fill="#fac800" stroke="#a88a00" stroke-width="1"/>
<line x1="115.2" y1="1014.0" x2="115.2" y2="990.0" stroke="#000" stroke-width="2.2"/>
<path d="M110.9,994.0 L115.2,991.5 L119.5,994.0 L115.2,984.0 Z" fill="#000"/>
<circle cx="115.2" cy="1024.5" r="10.6" fill="#fac800" stroke="#a88a00" stroke-width="1"/>
<text x="115.2" y="1029.1" font-size="13" font-weight="bold" fill="#000" text-anchor="middle" >Si</text>
<line x1="227.5" y1="1061.2" x2="227.5" y2="1035.9" stroke="#000" stroke-width="2.2"/>
<path d="M223.2,1039.9 L227.5,1037.4 L231.8,1039.9 L227.5,1029.9 Z" fill="#000"/>
<circle cx="227.5" cy="1071.7" r="10.6" fill="#fac800" stroke="#a88a00" stroke-width="1"/>
<text x="227.5" y="1076.3" font-size="13" font-weight="bold" fill="#000" text-anchor="middle" >Si</text>
<line x1="327.9" y1="1036.9" x2="327.9" y2="1013.0" stroke="#000" stroke-width="2.2"/>
<path d="M323.6,1017.0 L327.9,1014.5 L332.2,1017.0 L327.9,1007.0 Z" fill="#000"/>
<circle cx="327.9" cy="1047.4" r="10.6" fill="#fac800" stroke="#a88a00" stroke-width="1"/>
<text x="327.9" y="1052.0" font-size="13" font-weight="bold" fill="#000" text-anchor="middle" >Si</text>
<line x1="435.9" y1="1070.7" x2="435.9" y2="1048.0" stroke="#000" stroke-width="2.2"/>
<path d="M431.6,1052.0 L435.9,1049.5 L440.2,1052.0 L435.9,1042.0 Z" fill="#000"/>
<circle cx="435.9" cy="1081.2" r="10.6" fill="#fac800" stroke="#a88a00" stroke-width="1"/>
<text x="435.9" y="1085.8" font-size="13" font-weight="bold" fill="#000" text-anchor="middle" >Si</text>
<line x1="524.2" y1="1024.8" x2="524.2" y2="1000.8" stroke="#000" stroke-width="2.2"/>
<path d="M519.9,1004.8 L524.2,1002.3 L528.5,1004.8 L524.2,994.8 Z" fill="#000"/>
<circle cx="524.2" cy="1035.3" r="10.6" fill="#fac800" stroke="#a88a00" stroke-width="1"/>
<text x="524.2" y="1039.9" font-size="13" font-weight="bold" fill="#000" text-anchor="middle" >Si</text>
<line x1="609.6" y1="979.5" x2="609.6" y2="956.3" stroke="#000" stroke-width="2.2"/>
<path d="M605.3,960.3 L609.6,957.8 L613.9,960.3 L609.6,950.3 Z" fill="#000"/>
<circle cx="609.6" cy="990.0" r="10.6" fill="#fac800" stroke="#a88a00" stroke-width="1"/>
<text x="609.6" y="994.6" font-size="13" font-weight="bold" fill="#000" text-anchor="middle" >Si</text>
<text x="107.8" y="810.0" font-size="18" font-weight="bold" fill="#000" text-anchor="middle" >O<tspan font-size="11" dy="3">2</tspan></text>
<line x1="109.3" y1="815.0" x2="109.3" y2="858.5" stroke="#000" stroke-width="2.2"/>
<path d="M105.0,854.5 L109.3,857.0 L113.6,854.5 L109.3,864.5 Z" fill="#000"/>
<text x="188.2" y="810.0" font-size="18" font-weight="bold" fill="#000" text-anchor="middle" >O<tspan font-size="11" dy="3">2</tspan></text>
<line x1="189.7" y1="815.0" x2="189.7" y2="858.5" stroke="#000" stroke-width="2.2"/>
<path d="M185.4,854.5 L189.7,857.0 L194.0,854.5 L189.7,864.5 Z" fill="#000"/>
<text x="268.4" y="810.0" font-size="18" font-weight="bold" fill="#000" text-anchor="middle" >O<tspan font-size="11" dy="3">2</tspan></text>
<line x1="269.9" y1="815.0" x2="269.9" y2="858.5" stroke="#000" stroke-width="2.2"/>
<path d="M265.6,854.5 L269.9,857.0 L274.2,854.5 L269.9,864.5 Z" fill="#000"/>
<text x="348.5" y="810.0" font-size="18" font-weight="bold" fill="#000" text-anchor="middle" >O<tspan font-size="11" dy="3">2</tspan></text>
<line x1="350.0" y1="815.0" x2="350.0" y2="858.5" stroke="#000" stroke-width="2.2"/>
<path d="M345.7,854.5 L350.0,857.0 L354.3,854.5 L350.0,864.5 Z" fill="#000"/>
<text x="428.7" y="810.0" font-size="18" font-weight="bold" fill="#000" text-anchor="middle" >O<tspan font-size="11" dy="3">2</tspan></text>
<line x1="430.2" y1="815.0" x2="430.2" y2="858.5" stroke="#000" stroke-width="2.2"/>
<path d="M425.9,854.5 L430.2,857.0 L434.5,854.5 L430.2,864.5 Z" fill="#000"/>
<text x="508.6" y="810.0" font-size="18" font-weight="bold" fill="#000" text-anchor="middle" >O<tspan font-size="11" dy="3">2</tspan></text>
<line x1="510.1" y1="815.0" x2="510.1" y2="858.5" stroke="#000" stroke-width="2.2"/>
<path d="M505.8,854.5 L510.1,857.0 L514.4,854.5 L510.1,864.5 Z" fill="#000"/>
<text x="588.8" y="810.0" font-size="18" font-weight="bold" fill="#000" text-anchor="middle" >O<tspan font-size="11" dy="3">2</tspan></text>
<line x1="590.3" y1="815.0" x2="590.3" y2="858.5" stroke="#000" stroke-width="2.2"/>
<path d="M586.0,854.5 L590.3,857.0 L594.6,854.5 L590.3,864.5 Z" fill="#000"/>
<text x="366.3" y="887.6" font-size="18" font-weight="bold" fill="#000" text-anchor="middle" >Passive film</text>
<text x="70.7" y="1108.2" font-size="19" font-weight="bold" fill="#1010e0" text-anchor="start" >Substrate</text>
<text x="376.8" y="1123.0" font-size="19" font-weight="bold" fill="#000" text-anchor="middle" >(1)</text>
<path d="M689.5,892.8 L1304.5,892.8 L1304.5,1140.6 L1304.5,1140.6 C1298.9,1139.9 1288.6,1135.8 1270.7,1136.3 C1252.7,1136.8 1226.6,1144.3 1196.9,1143.6 C1167.2,1142.9 1136.9,1131.4 1092.3,1132.3 C1047.7,1133.2 984.7,1150.1 929.4,1148.8 C874.0,1147.5 797.0,1125.1 760.2,1124.6 C723.4,1124.1 720.4,1142.9 708.6,1145.6 C696.8,1148.3 692.7,1141.4 689.5,1140.6 Z" fill="#f0f0f0" stroke="#000" stroke-width="2.2" stroke-linejoin="miter"/>
<rect x="689.5" y="871.5" width="615.0" height="21.299999999999955" fill="#d0cce0" stroke="#000" stroke-width="2.3"/>
<path d="M723,893 C725,886 728,884 727,879 C726,876 730,874 729,871.5 L778,871.5 C776,875 781,877 780,880 C781,885 783,889 785,893 Z" fill="#c5d5e6" stroke="#000" stroke-width="1.4"/>
<path d="M835,893 C834,886 836,880 838,876 L840,871.5 L892,871.5 C896,873 903,877 906,883 C908,887 909,890 909,893 Z" fill="#f6c3ef" stroke="none"/>
<path d="M835,893 C834,886 836,880 840,872" fill="none" stroke="#000" stroke-width="1.4"/><path d="M901,875 C905,879 909,886 909,893" fill="none" stroke="#000" stroke-width="1.4"/>
<path d="M930,871.5 C928,874 927,877 929,880 C931,884 928,888 932,893 L972,893 C976,890 978,886 975,882 C973,878 976,874 973,871.5 Z" fill="#c5d5e6" stroke="#000" stroke-width="1.4"/>
<path d="M1094,893 L1094,880 C1095,875 1097,873 1100,872 L1134,872 C1137,876 1138,882 1138,893 Z" fill="#f8c6f4" stroke="#000" stroke-width="1.2" stroke-dasharray="3 2"/>
<path d="M1180,893 C1179,885 1181,879 1184,873 L1218,873 C1220,880 1222,886 1222,893 Z" fill="#f8c6f4" stroke="#000" stroke-width="1.2" stroke-dasharray="3 2"/>
<circle cx="703.0" cy="933.0" r="10.4" fill="#fac800" stroke="#a88a00" stroke-width="1"/>
<circle cx="713.8" cy="911.4" r="10.4" fill="#fac800" stroke="#a88a00" stroke-width="1"/>
<circle cx="735.4" cy="928.0" r="10.4" fill="#fac800" stroke="#a88a00" stroke-width="1"/>
<circle cx="753.8" cy="906.3" r="10.4" fill="#fac800" stroke="#a88a00" stroke-width="1"/>
<circle cx="778.0" cy="916.5" r="10.4" fill="#fac800" stroke="#a88a00" stroke-width="1"/>
<circle cx="799.5" cy="906.3" r="10.4" fill="#fac800" stroke="#a88a00" stroke-width="1"/>
<circle cx="802.0" cy="935.6" r="10.4" fill="#fac800" stroke="#a88a00" stroke-width="1"/>
<circle cx="823.7" cy="916.5" r="10.4" fill="#fac800" stroke="#a88a00" stroke-width="1"/>
<circle cx="842.0" cy="933.0" r="10.4" fill="#fac800" stroke="#a88a00" stroke-width="1"/>
<circle cx="855.4" cy="911.4" r="10.4" fill="#fac800" stroke="#a88a00" stroke-width="1"/>
<circle cx="871.3" cy="929.8" r="10.4" fill="#fac800" stroke="#a88a00" stroke-width="1"/>
<circle cx="885.0" cy="911.4" r="10.4" fill="#fac800" stroke="#a88a00" stroke-width="1"/>
<circle cx="906.2" cy="935.6" r="10.4" fill="#fac800" stroke="#a88a00" stroke-width="1"/>
<circle cx="908.7" cy="908.9" r="10.4" fill="#fac800" stroke="#a88a00" stroke-width="1"/>
<circle cx="932.9" cy="906.3" r="10.4" fill="#fac800" stroke="#a88a00" stroke-width="1"/>
<circle cx="935.4" cy="933.0" r="10.4" fill="#fac800" stroke="#a88a00" stroke-width="1"/>
<circle cx="957.0" cy="914.0" r="10.4" fill="#fac800" stroke="#a88a00" stroke-width="1"/>
<circle cx="972.9" cy="933.0" r="10.4" fill="#fac800" stroke="#a88a00" stroke-width="1"/>
<circle cx="988.8" cy="911.2" r="10.4" fill="#fac800" stroke="#a88a00" stroke-width="1"/>
<circle cx="1005.4" cy="930.2" r="10.4" fill="#fac800" stroke="#a88a00" stroke-width="1"/>
<circle cx="1031.7" cy="908.6" r="10.4" fill="#fac800" stroke="#a88a00" stroke-width="1"/>
<circle cx="1030.8" cy="932.7" r="10.4" fill="#fac800" stroke="#a88a00" stroke-width="1"/>
<circle cx="1053.3" cy="927.2" r="10.4" fill="#fac800" stroke="#a88a00" stroke-width="1"/>
<circle cx="1074.6" cy="908.6" r="10.4" fill="#fac800" stroke="#a88a00" stroke-width="1"/>
<circle cx="1088.2" cy="932.7" r="10.4" fill="#fac800" stroke="#a88a00" stroke-width="1"/>
<circle cx="1101.3" cy="908.6" r="10.4" fill="#fac800" stroke="#a88a00" stroke-width="1"/>
<circle cx="1122.9" cy="930.2" r="10.4" fill="#fac800" stroke="#a88a00" stroke-width="1"/>
<circle cx="1133.7" cy="906.0" r="10.4" fill="#fac800" stroke="#a88a00" stroke-width="1"/>
<circle cx="1147.0" cy="935.2" r="10.4" fill="#fac800" stroke="#a88a00" stroke-width="1"/>
<circle cx="1157.8" cy="913.7" r="10.4" fill="#fac800" stroke="#a88a00" stroke-width="1"/>
<circle cx="1171.1" cy="935.2" r="10.4" fill="#fac800" stroke="#a88a00" stroke-width="1"/>
<circle cx="1187.0" cy="908.6" r="10.4" fill="#fac800" stroke="#a88a00" stroke-width="1"/>
<circle cx="1195.3" cy="930.2" r="10.4" fill="#fac800" stroke="#a88a00" stroke-width="1"/>
<circle cx="1221.9" cy="916.8" r="10.4" fill="#fac800" stroke="#a88a00" stroke-width="1"/>
<circle cx="1221.9" cy="941.0" r="10.4" fill="#fac800" stroke="#a88a00" stroke-width="1"/>
<circle cx="1242.9" cy="906.0" r="10.4" fill="#fac800" stroke="#a88a00" stroke-width="1"/>
<circle cx="1245.4" cy="932.7" r="10.4" fill="#fac800" stroke="#a88a00" stroke-width="1"/>
<circle cx="1267.0" cy="916.8" r="10.4" fill="#fac800" stroke="#a88a00" stroke-width="1"/>
<circle cx="1277.8" cy="939.7" r="10.4" fill="#fac800" stroke="#a88a00" stroke-width="1"/>
<circle cx="1291.1" cy="919.4" r="10.4" fill="#fac800" stroke="#a88a00" stroke-width="1"/>
<line x1="762.2" y1="1014.0" x2="762.2" y2="990.0" stroke="#000" stroke-width="2.2"/>
<path d="M757.9,994.0 L762.2,991.5 L766.5,994.0 L762.2,984.0 Z" fill="#000"/>
<circle cx="762.2" cy="1024.5" r="10.6" fill="#fac800" stroke="#a88a00" stroke-width="1"/>
<text x="762.2" y="1029.1" font-size="13" font-weight="bold" fill="#000" text-anchor="middle" >Si</text>
<line x1="874.5" y1="1061.2" x2="874.5" y2="1035.9" stroke="#000" stroke-width="2.2"/>
<path d="M870.2,1039.9 L874.5,1037.4 L878.8,1039.9 L874.5,1029.9 Z" fill="#000"/>
<circle cx="874.5" cy="1071.7" r="10.6" fill="#fac800" stroke="#a88a00" stroke-width="1"/>
<text x="874.5" y="1076.3" font-size="13" font-weight="bold" fill="#000" text-anchor="middle" >Si</text>
<line x1="974.9" y1="1036.9" x2="974.9" y2="1013.0" stroke="#000" stroke-width="2.2"/>
<path d="M970.6,1017.0 L974.9,1014.5 L979.2,1017.0 L974.9,1007.0 Z" fill="#000"/>
<circle cx="974.9" cy="1047.4" r="10.6" fill="#fac800" stroke="#a88a00" stroke-width="1"/>
<text x="974.9" y="1052.0" font-size="13" font-weight="bold" fill="#000" text-anchor="middle" >Si</text>
<line x1="1082.9" y1="1070.7" x2="1082.9" y2="1048.0" stroke="#000" stroke-width="2.2"/>
<path d="M1078.6,1052.0 L1082.9,1049.5 L1087.2,1052.0 L1082.9,1042.0 Z" fill="#000"/>
<circle cx="1082.9" cy="1081.2" r="10.6" fill="#fac800" stroke="#a88a00" stroke-width="1"/>
<text x="1082.9" y="1085.8" font-size="13" font-weight="bold" fill="#000" text-anchor="middle" >Si</text>
<line x1="1171.2" y1="1024.8" x2="1171.2" y2="1000.8" stroke="#000" stroke-width="2.2"/>
<path d="M1166.9,1004.8 L1171.2,1002.3 L1175.5,1004.8 L1171.2,994.8 Z" fill="#000"/>
<circle cx="1171.2" cy="1035.3" r="10.6" fill="#fac800" stroke="#a88a00" stroke-width="1"/>
<text x="1171.2" y="1039.9" font-size="13" font-weight="bold" fill="#000" text-anchor="middle" >Si</text>
<line x1="1256.6" y1="979.5" x2="1256.6" y2="956.3" stroke="#000" stroke-width="2.2"/>
<path d="M1252.3,960.3 L1256.6,957.8 L1260.9,960.3 L1256.6,950.3 Z" fill="#000"/>
<circle cx="1256.6" cy="990.0" r="10.6" fill="#fac800" stroke="#a88a00" stroke-width="1"/>
<text x="1256.6" y="994.6" font-size="13" font-weight="bold" fill="#000" text-anchor="middle" >Si</text>
<text x="751.5" y="810.9" font-size="18" font-weight="bold" fill="#000" text-anchor="middle" >O<tspan font-size="11" dy="3">2</tspan></text>
<line x1="753.0" y1="815.4" x2="753.0" y2="831.6" stroke="#000" stroke-width="2.2"/>
<path d="M748.7,827.6 L753.0,830.1 L757.3,827.6 L753.0,837.6 Z" fill="#000"/>
<text x="830.1" y="810.9" font-size="18" font-weight="bold" fill="#000" text-anchor="middle" >O<tspan font-size="11" dy="3">2</tspan></text>
<line x1="831.6" y1="815.4" x2="831.6" y2="831.6" stroke="#000" stroke-width="2.2"/>
<path d="M827.3,827.6 L831.6,830.1 L835.9,827.6 L831.6,837.6 Z" fill="#000"/>
<text x="917.8" y="810.9" font-size="18" font-weight="bold" fill="#000" text-anchor="middle" >O<tspan font-size="11" dy="3">2</tspan></text>
<line x1="919.3" y1="815.4" x2="919.3" y2="859.1" stroke="#000" stroke-width="2.2"/>
<path d="M915.0,855.1 L919.3,857.6 L923.6,855.1 L919.3,865.1 Z" fill="#000"/>
<text x="997.7" y="810.9" font-size="18" font-weight="bold" fill="#000" text-anchor="middle" >O<tspan font-size="11" dy="3">2</tspan></text>
<line x1="999.2" y1="815.4" x2="999.2" y2="859.1" stroke="#000" stroke-width="2.2"/>
<path d="M994.9,855.1 L999.2,857.6 L1003.5,855.1 L999.2,865.1 Z" fill="#000"/>
<text x="1075.5" y="810.9" font-size="18" font-weight="bold" fill="#000" text-anchor="middle" >O<tspan font-size="11" dy="3">2</tspan></text>
<line x1="1077.0" y1="815.4" x2="1077.0" y2="859.1" stroke="#000" stroke-width="2.2"/>
<path d="M1072.7,855.1 L1077.0,857.6 L1081.3,855.1 L1077.0,865.1 Z" fill="#000"/>
<text x="1155.6" y="810.9" font-size="18" font-weight="bold" fill="#000" text-anchor="middle" >O<tspan font-size="11" dy="3">2</tspan></text>
<line x1="1157.1" y1="815.4" x2="1157.1" y2="831.6" stroke="#000" stroke-width="2.2"/>
<path d="M1152.8,827.6 L1157.1,830.1 L1161.4,827.6 L1157.1,837.6 Z" fill="#000"/>
<text x="1236.0" y="810.9" font-size="18" font-weight="bold" fill="#000" text-anchor="middle" >O<tspan font-size="11" dy="3">2</tspan></text>
<line x1="1237.5" y1="815.4" x2="1237.5" y2="859.1" stroke="#000" stroke-width="2.2"/>
<path d="M1233.2,855.1 L1237.5,857.6 L1241.8,855.1 L1237.5,865.1 Z" fill="#000"/>
<text x="753.5" y="887.9" font-size="17" font-weight="bold" fill="#000" text-anchor="middle" >Fe<tspan font-size="11.5" dy="4">2</tspan><tspan dy="-4">O</tspan><tspan font-size="11.5" dy="4">3</tspan></text>
<text x="868.6" y="887.9" font-size="17" font-weight="bold" fill="#000" text-anchor="middle" >MoO<tspan font-size="11.5" dy="4">3</tspan></text>
<text x="1033.7" y="887.4" font-size="18" font-weight="bold" fill="#000" text-anchor="middle" >Passive film</text>
<text x="681.0" y="858.6" font-size="18.5" font-weight="bold" fill="#000" text-anchor="start" >Fe<tspan font-size="12.5" dy="3.5">2</tspan><tspan dy="-3.5">(MoO</tspan><tspan font-size="12.5" dy="3.5">4</tspan><tspan dy="-3.5">)</tspan><tspan font-size="12.5" dy="3.5">3</tspan><tspan dy="-3.5">→Fe</tspan><tspan font-size="12.5" dy="3.5">2</tspan><tspan dy="-3.5">O</tspan><tspan font-size="12.5" dy="3.5">3</tspan><tspan dy="-3.5">+3MoO</tspan><tspan font-size="12.5" dy="3.5">3</tspan></text>
<text x="1159.5" y="856.0" font-size="18.5" font-weight="bold" fill="#ee0000" text-anchor="middle" >Sublimation</text>
<path d="M1125.7,861.2 L1114.4,882.1 M1194.3,861.2 L1206.1,882.1" stroke="#000" stroke-width="1.2"/>
<text x="718.1" y="1107.9" font-size="19" font-weight="bold" fill="#1010e0" text-anchor="start" >Substrate</text>
<text x="1023.5" y="1123.1" font-size="19" font-weight="bold" fill="#000" text-anchor="middle" >(2)</text>
<path d="M42.5,1268 L658,1268 L658,1516.6 L658.0,1516.6 C652.4,1515.9 642.1,1511.8 624.1,1512.3 C606.2,1512.8 580.0,1520.3 550.3,1519.6 C520.5,1518.9 490.3,1507.4 445.7,1508.3 C401.0,1509.2 337.9,1526.1 282.5,1524.8 C227.2,1523.5 150.1,1501.1 113.3,1500.6 C76.5,1500.1 73.4,1518.9 61.6,1521.6 C49.8,1524.3 45.7,1517.4 42.5,1516.6 Z" fill="#f0f0f0" stroke="#000" stroke-width="2.2" stroke-linejoin="miter"/>
<rect x="42.5" y="1247.6" width="615.5" height="20.40000000000009" fill="#c8d4e4" stroke="#000" stroke-width="2.3"/>
<path d="M44,1268 L44,1255 C52,1254.3 62,1256.5 70,1257.7 L75.7,1257.7 C79,1258 80,1261 80,1264 L79.3,1268 Z" fill="#ffff10" stroke="#000" stroke-width="1.3" stroke-linejoin="round"/>
<path d="M111.5,1248.6 L151.3,1248.6 C152.3,1251 150.5,1255 148.3,1258 C146,1261 144.5,1264 143.5,1268 L131,1268 L129.8,1259.5 L126.1,1255.8 L121.2,1256.4 L117.5,1253.4 L110.7,1254 C110.5,1252 111,1250 111.5,1248.6 Z" fill="#14e614" stroke="#000" stroke-width="1.3" stroke-linejoin="round"/>
<path d="M110.7,1254 L117.5,1253.4 L121.2,1256.4 L126.1,1255.8 L129.8,1259.5 L131,1266.9 L126.1,1268.1 L118.7,1266.9 L113.8,1263.2 L112.5,1259.5 C111,1257.5 110.5,1255.5 110.7,1254 Z" fill="#ffff10" stroke="#000" stroke-width="1.3" stroke-linejoin="round"/>
<path d="M181.5,1248.6 L217.1,1248.6 L212.2,1252.1 L204.8,1257.7 L196.2,1260.8 L193.5,1268 L192.5,1266.9 L187.6,1264.4 L180.2,1258.3 C180.5,1255 181,1251.5 181.5,1248.6 Z" fill="#14e614" stroke="#000" stroke-width="1.3" stroke-linejoin="round"/>
<path d="M193.5,1268 L196.2,1260.8 L204.8,1257.7 L212.2,1252.1 L217.1,1249.2 L220.8,1266.9 L220.8,1268 Z" fill="#ffff10" stroke="#000" stroke-width="1.3" stroke-linejoin="round"/>
<path d="M279.5,1248.6 L311.8,1248.6 L311.8,1268 L304,1268 L303.2,1260.8 L299.5,1254.6 L297.1,1250.9 L292.2,1249.7 L283.5,1253.4 Z" fill="#14e614" stroke="#000" stroke-width="1.3" stroke-linejoin="round"/>
<path d="M278.6,1257.1 L283.5,1253.4 L292.2,1249.7 L297.1,1250.9 L299.5,1254.6 L303.2,1260.8 L303.2,1266.9 L294.6,1266.9 L286,1264.4 L279.9,1260.8 Z" fill="#ffff10" stroke="#000" stroke-width="1.3" stroke-linejoin="round"/>
<path d="M357.5,1248.6 L363,1248.6 C362,1253 363.5,1258 365,1262 C366,1265 367,1267 368,1268 L363,1268 C360,1264 359,1260 359.5,1256 C359,1253 358,1250.5 357.5,1248.6 Z" fill="#14e614" stroke="#000" stroke-width="1.3" stroke-linejoin="round"/>
<path d="M408.5,1248.6 L440,1248.6 L439.5,1251.5 C433,1253 427,1256 422,1260 L416,1268 L406,1268 C409,1263 412,1259 416.5,1257.5 C413,1255 410.5,1252 408.5,1248.6 Z" fill="#14e614" stroke="#000" stroke-width="1.3" stroke-linejoin="round"/>
<path d="M416,1268 C420,1262 426,1257 433,1254 C436,1252.5 438.5,1251.5 440,1252 C439,1255 440.5,1258 441.5,1260 C440.5,1262.5 441,1265.5 441.5,1268 Z" fill="#ffff10" stroke="#000" stroke-width="1.3" stroke-linejoin="round"/>
<path d="M401.6,1237.6 L425.3,1261.3" stroke="#000" stroke-width="1.3"/>
<path d="M510,1268 L513,1263 L517.5,1268 Z" fill="#ffff10" stroke="#000" stroke-width="1.3" stroke-linejoin="round"/>
<path d="M525,1268 L529,1263 L533,1268 Z" fill="#ffff10" stroke="#000" stroke-width="1.3" stroke-linejoin="round"/>
<path d="M515.2,1248.6 L529.2,1248.6 L522.9,1268.2 L520.3,1268.2 Z" fill="#14e614" stroke="#000" stroke-width="1.3" stroke-linejoin="round"/>
<path d="M587.8,1248.6 L611.7,1248.6 C612.5,1251 611.5,1252 610.5,1252.3 L604,1253 L599,1256.7 L596.5,1267.5 L591,1268 C590,1264 589.5,1261 590.5,1259 L588,1257 C589.5,1255 590,1253 588.5,1251 Z" fill="#14e614" stroke="#000" stroke-width="1.3" stroke-linejoin="round"/>
<path d="M596.5,1267.5 L599,1256.7 L604,1253 L610.5,1252.3 C612,1253.5 612.5,1255 611.7,1257 C611,1260 610,1263 609.2,1264 C607.5,1266 605.5,1267.5 604,1267.8 Z" fill="#ffff10" stroke="#000" stroke-width="1.3" stroke-linejoin="round"/>
<path d="M440.5,1268 C441.5,1264 439,1260 441.5,1256.5 C439.5,1253 441.5,1249 441,1246 C446,1244.5 452,1245 470,1245.5 L495,1245.5 C503,1245.5 507,1242 510.8,1235.8 C512.8,1242 513.5,1252 512.2,1258 C510.5,1263 505,1267 497,1268 Z" fill="#c8d4e4" stroke="#000" stroke-width="1.6"/>
<path d="M535.6,1268 C531,1265 530.5,1262 530.5,1258 C530.5,1252 531.5,1244 533.7,1237 C536,1243 540,1247 548,1247.6 L587,1247.6 L587,1266.8 L535.6,1266.8 Z" fill="#c8d4e4" stroke="none"/>
<path d="M535.6,1268 C531,1265 530.5,1262 530.5,1258 C530.5,1252 531.5,1244 533.7,1237 C536,1243 540,1247 548,1247.6 L588,1247.6" fill="none" stroke="#000" stroke-width="1.6"/>
<circle cx="62.1" cy="1290.3" r="10.4" fill="#fac800" stroke="#a88a00" stroke-width="1"/>
<circle cx="85.8" cy="1292.9" r="10.4" fill="#fac800" stroke="#a88a00" stroke-width="1"/>
<circle cx="107.4" cy="1282.4" r="10.4" fill="#fac800" stroke="#a88a00" stroke-width="1"/>
<circle cx="131.1" cy="1292.9" r="10.4" fill="#fac800" stroke="#a88a00" stroke-width="1"/>
<circle cx="152.9" cy="1282.4" r="10.4" fill="#fac800" stroke="#a88a00" stroke-width="1"/>
<circle cx="176.6" cy="1292.9" r="10.4" fill="#fac800" stroke="#a88a00" stroke-width="1"/>
<circle cx="208.2" cy="1287.6" r="10.4" fill="#fac800" stroke="#a88a00" stroke-width="1"/>
<circle cx="237.9" cy="1287.6" r="10.4" fill="#fac800" stroke="#a88a00" stroke-width="1"/>
<circle cx="261.6" cy="1285.0" r="10.4" fill="#fac800" stroke="#a88a00" stroke-width="1"/>
<circle cx="285.8" cy="1282.4" r="10.4" fill="#fac800" stroke="#a88a00" stroke-width="1"/>
<circle cx="310.0" cy="1290.3" r="10.4" fill="#fac800" stroke="#a88a00" stroke-width="1"/>
<circle cx="334.5" cy="1292.9" r="10.4" fill="#fac800" stroke="#a88a00" stroke-width="1"/>
<circle cx="358.2" cy="1285.0" r="10.4" fill="#fac800" stroke="#a88a00" stroke-width="1"/>
<circle cx="385.3" cy="1285.0" r="10.4" fill="#fac800" stroke="#a88a00" stroke-width="1"/>
<circle cx="406.3" cy="1295.5" r="10.4" fill="#fac800" stroke="#a88a00" stroke-width="1"/>
<circle cx="427.9" cy="1285.0" r="10.4" fill="#fac800" stroke="#a88a00" stroke-width="1"/>
<circle cx="454.2" cy="1285.0" r="10.4" fill="#fac800" stroke="#a88a00" stroke-width="1"/>
<circle cx="486.3" cy="1282.4" r="10.4" fill="#fac800" stroke="#a88a00" stroke-width="1"/>
<circle cx="510.0" cy="1290.3" r="10.4" fill="#fac800" stroke="#a88a00" stroke-width="1"/>
<circle cx="534.5" cy="1295.5" r="10.4" fill="#fac800" stroke="#a88a00" stroke-width="1"/>
<circle cx="552.9" cy="1282.4" r="10.4" fill="#fac800" stroke="#a88a00" stroke-width="1"/>
<circle cx="573.9" cy="1292.9" r="10.4" fill="#fac800" stroke="#a88a00" stroke-width="1"/>
<circle cx="595.8" cy="1282.4" r="10.4" fill="#fac800" stroke="#a88a00" stroke-width="1"/>
<circle cx="619.5" cy="1292.9" r="10.4" fill="#fac800" stroke="#a88a00" stroke-width="1"/>
<circle cx="644.2" cy="1295.5" r="10.4" fill="#fac800" stroke="#a88a00" stroke-width="1"/>
<line x1="112.6" y1="1377.1" x2="112.6" y2="1352.8" stroke="#000" stroke-width="2.2"/>
<path d="M108.3,1356.8 L112.6,1354.3 L116.9,1356.8 L112.6,1346.8 Z" fill="#000"/>
<circle cx="112.6" cy="1387.6" r="10.6" fill="#fac800" stroke="#a88a00" stroke-width="1"/>
<text x="112.6" y="1392.2" font-size="13" font-weight="bold" fill="#000" text-anchor="middle" >Si</text>
<line x1="214.2" y1="1433.2" x2="214.2" y2="1408.1" stroke="#000" stroke-width="2.2"/>
<path d="M209.9,1412.1 L214.2,1409.6 L218.5,1412.1 L214.2,1402.1 Z" fill="#000"/>
<circle cx="214.2" cy="1443.7" r="10.6" fill="#fac800" stroke="#a88a00" stroke-width="1"/>
<text x="214.2" y="1448.3" font-size="13" font-weight="bold" fill="#000" text-anchor="middle" >Si</text>
<line x1="314.7" y1="1404.8" x2="314.7" y2="1380.5" stroke="#000" stroke-width="2.2"/>
<path d="M310.4,1384.5 L314.7,1382.0 L319.0,1384.5 L314.7,1374.5 Z" fill="#000"/>
<circle cx="314.7" cy="1415.3" r="10.6" fill="#fac800" stroke="#a88a00" stroke-width="1"/>
<text x="314.7" y="1419.9" font-size="13" font-weight="bold" fill="#000" text-anchor="middle" >Si</text>
<line x1="422.6" y1="1446.3" x2="422.6" y2="1422.6" stroke="#000" stroke-width="2.2"/>
<path d="M418.3,1426.6 L422.6,1424.1 L426.9,1426.6 L422.6,1416.6 Z" fill="#000"/>
<circle cx="422.6" cy="1456.8" r="10.6" fill="#fac800" stroke="#a88a00" stroke-width="1"/>
<text x="422.6" y="1461.4" font-size="13" font-weight="bold" fill="#000" text-anchor="middle" >Si</text>
<line x1="510.8" y1="1399.5" x2="510.8" y2="1375.2" stroke="#000" stroke-width="2.2"/>
<path d="M506.5,1379.2 L510.8,1376.7 L515.1,1379.2 L510.8,1369.2 Z" fill="#000"/>
<circle cx="510.8" cy="1410.0" r="10.6" fill="#fac800" stroke="#a88a00" stroke-width="1"/>
<text x="510.8" y="1414.6" font-size="13" font-weight="bold" fill="#000" text-anchor="middle" >Si</text>
<line x1="596.3" y1="1354.2" x2="596.3" y2="1330.5" stroke="#000" stroke-width="2.2"/>
<path d="M592.0,1334.5 L596.3,1332.0 L600.6,1334.5 L596.3,1324.5 Z" fill="#000"/>
<circle cx="596.3" cy="1364.7" r="10.6" fill="#fac800" stroke="#a88a00" stroke-width="1"/>
<text x="596.3" y="1369.3" font-size="13" font-weight="bold" fill="#000" text-anchor="middle" >Si</text>
<text x="98.0" y="1191.0" font-size="18" font-weight="bold" fill="#000" text-anchor="middle" >O<tspan font-size="11" dy="3">2</tspan></text>
<line x1="99.5" y1="1194.2" x2="99.5" y2="1256.6" stroke="#000" stroke-width="2.2"/>
<path d="M95.2,1252.6 L99.5,1255.1 L103.8,1252.6 L99.5,1262.6 Z" fill="#000"/>
<text x="183.0" y="1191.0" font-size="18" font-weight="bold" fill="#000" text-anchor="middle" >O<tspan font-size="11" dy="3">2</tspan></text>
<line x1="184.5" y1="1194.2" x2="184.5" y2="1206.6" stroke="#000" stroke-width="2.2"/>
<path d="M180.2,1202.6 L184.5,1205.1 L188.8,1202.6 L184.5,1212.6 Z" fill="#000"/>
<text x="263.2" y="1191.0" font-size="18" font-weight="bold" fill="#000" text-anchor="middle" >O<tspan font-size="11" dy="3">2</tspan></text>
<line x1="264.7" y1="1194.2" x2="264.7" y2="1233.0" stroke="#000" stroke-width="2.2"/>
<path d="M260.4,1229.0 L264.7,1231.5 L269.0,1229.0 L264.7,1239.0 Z" fill="#000"/>
<text x="343.5" y="1191.0" font-size="18" font-weight="bold" fill="#000" text-anchor="middle" >O<tspan font-size="11" dy="3">2</tspan></text>
<line x1="345.0" y1="1194.2" x2="345.0" y2="1255.3" stroke="#000" stroke-width="2.2"/>
<path d="M340.7,1251.3 L345.0,1253.8 L349.3,1251.3 L345.0,1261.3 Z" fill="#000"/>
<text x="429.6" y="1191.0" font-size="18" font-weight="bold" fill="#000" text-anchor="middle" >O<tspan font-size="11" dy="3">2</tspan></text>
<line x1="431.1" y1="1194.2" x2="431.1" y2="1235.6" stroke="#000" stroke-width="2.2"/>
<path d="M426.8,1231.6 L431.1,1234.1 L435.4,1231.6 L431.1,1241.6 Z" fill="#000"/>
<text x="503.5" y="1191.0" font-size="18" font-weight="bold" fill="#000" text-anchor="middle" >O<tspan font-size="11" dy="3">2</tspan></text>
<line x1="505.0" y1="1194.2" x2="505.0" y2="1254.0" stroke="#000" stroke-width="2.2"/>
<path d="M500.7,1250.0 L505.0,1252.5 L509.3,1250.0 L505.0,1260.0 Z" fill="#000"/>
<text x="576.9" y="1191.0" font-size="18" font-weight="bold" fill="#000" text-anchor="middle" >O<tspan font-size="11" dy="3">2</tspan></text>
<line x1="578.4" y1="1194.2" x2="578.4" y2="1255.3" stroke="#000" stroke-width="2.2"/>
<path d="M574.1,1251.3 L578.4,1253.8 L582.7,1251.3 L578.4,1261.3 Z" fill="#000"/>
<text x="150.0" y="1231.6" font-size="18" font-weight="bold" fill="#000" text-anchor="middle" >Fe<tspan font-size="12.5" dy="4">2</tspan><tspan dy="-4">SiO</tspan><tspan font-size="12.5" dy="4">4</tspan></text>
<text x="402.5" y="1235.0" font-size="18" font-weight="bold" fill="#000" text-anchor="middle" >SiO<tspan font-size="12.5" dy="4">2</tspan></text>
<path d="M133.2,1235 L124,1252 M167.4,1233.7 L191,1248" stroke="#000" stroke-width="1.2"/>
<text x="251.5" y="1264.0" font-size="18" font-weight="bold" fill="#000" text-anchor="middle" >Fe-O</text>
<text x="473.0" y="1264.0" font-size="18" font-weight="bold" fill="#000" text-anchor="middle" >Fe-O</text>
<text x="68.2" y="1483.7" font-size="19" font-weight="bold" fill="#1010e0" text-anchor="start" >Substrate</text>
<text x="345.0" y="1499.5" font-size="19" font-weight="bold" fill="#000" text-anchor="middle" >(3)</text>
<path d="M689.3,1266.4 L1304.3,1266.4 L1304.3,1516.6 L1304.3,1516.6 C1298.7,1515.9 1288.4,1511.8 1270.5,1512.3 C1252.5,1512.8 1226.4,1520.3 1196.7,1519.6 C1167.0,1518.9 1136.7,1507.4 1092.1,1508.3 C1047.5,1509.2 984.5,1526.1 929.1,1524.8 C873.8,1523.5 796.8,1501.1 760.0,1500.6 C723.2,1500.1 720.2,1518.9 708.4,1521.6 C696.6,1524.3 692.5,1517.4 689.3,1516.6 Z" fill="#f0f0f0" stroke="#000" stroke-width="2.2" stroke-linejoin="miter"/>
<rect x="689.3" y="1215.4" width="615.0" height="31.399999999999864" fill="#c8d4e4" stroke="#000" stroke-width="2.3"/>
<rect x="689.3" y="1246.8" width="615.0" height="19.600000000000136" fill="#fcc8c8" stroke="#000" stroke-width="2.3"/>
<text x="1000.0" y="1237.1" font-size="18" font-weight="bold" fill="#000" text-anchor="middle" >Fe-O</text>
<text x="999.8" y="1262.5" font-size="17.5" font-weight="bold" fill="#000" text-anchor="middle" >FeO-Fe<tspan font-size="11.5" dy="4">2</tspan><tspan dy="-4">SiO</tspan><tspan font-size="11.5" dy="4">4</tspan></text>
<text x="718.1" y="1483.8" font-size="19" font-weight="bold" fill="#1010e0" text-anchor="start" >Substrate</text>
<text x="1021.0" y="1494.3" font-size="19" font-weight="bold" fill="#000" text-anchor="middle" >(4)</text>
<text x="1324.5" y="832.8" font-size="49.5" font-weight="bold" fill="#000" text-anchor="start" >(d)</text>
<path d="M1334.4,882.1 L1959.6,882.1 L1959.6,1134.9 L1959.6,1134.9 C1953.9,1134.2 1943.4,1130.1 1925.2,1130.6 C1907.0,1131.1 1880.4,1138.6 1850.2,1137.9 C1820.0,1137.2 1789.2,1125.7 1743.9,1126.6 C1698.6,1127.5 1634.5,1144.4 1578.2,1143.1 C1522.0,1141.8 1443.7,1119.4 1406.3,1118.9 C1368.9,1118.4 1365.8,1137.2 1353.8,1139.9 C1341.8,1142.6 1337.6,1135.7 1334.4,1134.9 Z" fill="#f0f0f0" stroke="#000" stroke-width="2.2" stroke-linejoin="miter"/>
<text x="1347.5" y="905.7" font-size="19" font-weight="bold" fill="#ee0000" text-anchor="start" >No passive film exist</text>
<text x="1360.0" y="1098.2" font-size="19" font-weight="bold" fill="#1010e0" text-anchor="start" >Substrate</text>
<text x="1646.9" y="1115.8" font-size="19" font-weight="bold" fill="#000" text-anchor="middle" >(1)</text>
<path d="M1991.8,882.8 L2618,882.8 L2618,1134.3 L2618.0,1134.3 C2612.3,1133.6 2601.8,1129.5 2583.6,1130.0 C2565.3,1130.5 2538.7,1138.0 2508.4,1137.3 C2478.1,1136.6 2447.4,1125.1 2402.0,1126.0 C2356.6,1126.9 2292.4,1143.8 2236.0,1142.5 C2179.7,1141.2 2101.3,1118.8 2063.8,1118.3 C2026.3,1117.8 2023.2,1136.6 2011.2,1139.3 C1999.2,1142.0 1995.0,1135.1 1991.8,1134.3 Z" fill="#f0f0f0" stroke="#000" stroke-width="2.2" stroke-linejoin="miter"/>
<rect x="1991.8" y="860.5" width="626.2" height="22.299999999999955" fill="#c8d4e4" stroke="#000" stroke-width="2.3"/>
<path d="M2011.4,878 C2010.4,872 2016.6,868 2021.8,870 C2028.1,867 2033.3,872 2032.3,877 C2030.3,881 2014.4,882 2011.4,878 Z" fill="#ffff10" stroke="#000" stroke-width="1.8"/>
<path d="M2109.4,878 C2108.4,872 2114.0,868 2118.6,870 C2124.0,867 2128.7,872 2127.7,877 C2125.7,881 2112.4,882 2109.4,878 Z" fill="#ffff10" stroke="#000" stroke-width="1.8"/>
<path d="M2242.8,878 C2241.8,872 2248.4,868 2253.9,870 C2260.6,867 2266.0,872 2265.0,877 C2263.0,881 2245.8,882 2242.8,878 Z" fill="#ffff10" stroke="#000" stroke-width="1.8"/>
<path d="M2331.7,878 C2330.7,872 2337.6,868 2343.5,870 C2350.6,867 2356.3,872 2355.3,877 C2353.3,881 2334.7,882 2331.7,878 Z" fill="#ffff10" stroke="#000" stroke-width="1.8"/>
<path d="M2416.7,878 C2415.7,872 2425.2,868 2433.7,870 C2443.9,867 2451.7,872 2450.7,877 C2448.7,881 2419.7,882 2416.7,878 Z" fill="#ffff10" stroke="#000" stroke-width="1.8"/>
<path d="M2572.3,878 C2571.3,872 2577.2,868 2582.2,870 C2588.1,867 2593.0,872 2592.0,877 C2590.0,881 2575.3,882 2572.3,878 Z" fill="#ffff10" stroke="#000" stroke-width="1.8"/>
<circle cx="2016.6" cy="901.6" r="10.8" fill="#fac800" stroke="#a88a00" stroke-width="1"/>
<circle cx="2082.0" cy="906.8" r="10.8" fill="#fac800" stroke="#a88a00" stroke-width="1"/>
<circle cx="2127.7" cy="906.8" r="10.8" fill="#fac800" stroke="#a88a00" stroke-width="1"/>
<circle cx="2190.5" cy="901.6" r="10.8" fill="#fac800" stroke="#a88a00" stroke-width="1"/>
<circle cx="2239.4" cy="895.6" r="10.8" fill="#fac800" stroke="#a88a00" stroke-width="1"/>
<circle cx="2296.4" cy="901.6" r="10.8" fill="#fac800" stroke="#a88a00" stroke-width="1"/>
<circle cx="2340.4" cy="899.0" r="10.8" fill="#fac800" stroke="#a88a00" stroke-width="1"/>
<circle cx="2383.5" cy="899.0" r="10.8" fill="#fac800" stroke="#a88a00" stroke-width="1"/>
<circle cx="2443.4" cy="895.6" r="10.8" fill="#fac800" stroke="#a88a00" stroke-width="1"/>
<circle cx="2497.8" cy="899.0" r="10.8" fill="#fac800" stroke="#a88a00" stroke-width="1"/>
<circle cx="2533.0" cy="906.8" r="10.8" fill="#fac800" stroke="#a88a00" stroke-width="1"/>
<circle cx="2579.4" cy="906.8" r="10.8" fill="#fac800" stroke="#a88a00" stroke-width="1"/>
<line x1="2060.5" y1="991.3" x2="2060.5" y2="967.7" stroke="#000" stroke-width="2.2"/>
<path d="M2056.2,971.7 L2060.5,969.2 L2064.8,971.7 L2060.5,961.7 Z" fill="#000"/>
<circle cx="2060.5" cy="1001.8" r="10.6" fill="#fac800" stroke="#a88a00" stroke-width="1"/>
<text x="2060.5" y="1006.4" font-size="13" font-weight="bold" fill="#000" text-anchor="middle" >Si</text>
<line x1="2180.0" y1="1034.9" x2="2180.0" y2="1010.9" stroke="#000" stroke-width="2.2"/>
<path d="M2175.7,1014.9 L2180.0,1012.4 L2184.3,1014.9 L2180.0,1004.9 Z" fill="#000"/>
<circle cx="2180.0" cy="1045.4" r="10.6" fill="#fac800" stroke="#a88a00" stroke-width="1"/>
<text x="2180.0" y="1050.0" font-size="13" font-weight="bold" fill="#000" text-anchor="middle" >Si</text>
<line x1="2282.6" y1="1006.2" x2="2282.6" y2="982.1" stroke="#000" stroke-width="2.2"/>
<path d="M2278.3,986.1 L2282.6,983.6 L2286.9,986.1 L2282.6,976.1 Z" fill="#000"/>
<circle cx="2282.6" cy="1016.7" r="10.6" fill="#fac800" stroke="#a88a00" stroke-width="1"/>
<text x="2282.6" y="1021.3" font-size="13" font-weight="bold" fill="#000" text-anchor="middle" >Si</text>
<line x1="2391.9" y1="1063.7" x2="2391.9" y2="1039.7" stroke="#000" stroke-width="2.2"/>
<path d="M2387.6,1043.7 L2391.9,1041.2 L2396.2,1043.7 L2391.9,1033.7 Z" fill="#000"/>
<circle cx="2391.9" cy="1074.2" r="10.6" fill="#fac800" stroke="#a88a00" stroke-width="1"/>
<text x="2391.9" y="1078.8" font-size="13" font-weight="bold" fill="#000" text-anchor="middle" >Si</text>
<line x1="2482.1" y1="1016.6" x2="2482.1" y2="992.6" stroke="#000" stroke-width="2.2"/>
<path d="M2477.8,996.6 L2482.1,994.1 L2486.4,996.6 L2482.1,986.6 Z" fill="#000"/>
<circle cx="2482.1" cy="1027.1" r="10.6" fill="#fac800" stroke="#a88a00" stroke-width="1"/>
<text x="2482.1" y="1031.7" font-size="13" font-weight="bold" fill="#000" text-anchor="middle" >Si</text>
<line x1="2568.9" y1="970.9" x2="2568.9" y2="946.8" stroke="#000" stroke-width="2.2"/>
<path d="M2564.6,950.8 L2568.9,948.3 L2573.2,950.8 L2568.9,940.8 Z" fill="#000"/>
<circle cx="2568.9" cy="981.4" r="10.6" fill="#fac800" stroke="#a88a00" stroke-width="1"/>
<text x="2568.9" y="986.0" font-size="13" font-weight="bold" fill="#000" text-anchor="middle" >Si</text>
<text x="2059.0" y="800.9" font-size="18" font-weight="bold" fill="#000" text-anchor="middle" >O<tspan font-size="11" dy="3">2</tspan></text>
<line x1="2060.5" y1="804.8" x2="2060.5" y2="869.4" stroke="#000" stroke-width="2.2"/>
<path d="M2056.2,865.4 L2060.5,867.9 L2064.8,865.4 L2060.5,875.4 Z" fill="#000"/>
<text x="2140.1" y="800.9" font-size="18" font-weight="bold" fill="#000" text-anchor="middle" >O<tspan font-size="11" dy="3">2</tspan></text>
<line x1="2141.6" y1="804.8" x2="2141.6" y2="869.4" stroke="#000" stroke-width="2.2"/>
<path d="M2137.3,865.4 L2141.6,867.9 L2145.9,865.4 L2141.6,875.4 Z" fill="#000"/>
<text x="2221.7" y="800.9" font-size="18" font-weight="bold" fill="#000" text-anchor="middle" >O<tspan font-size="11" dy="3">2</tspan></text>
<line x1="2223.2" y1="804.8" x2="2223.2" y2="869.4" stroke="#000" stroke-width="2.2"/>
<path d="M2218.9,865.4 L2223.2,867.9 L2227.5,865.4 L2223.2,875.4 Z" fill="#000"/>
<text x="2303.3" y="800.9" font-size="18" font-weight="bold" fill="#000" text-anchor="middle" >O<tspan font-size="11" dy="3">2</tspan></text>
<line x1="2304.8" y1="804.8" x2="2304.8" y2="869.4" stroke="#000" stroke-width="2.2"/>
<path d="M2300.5,865.4 L2304.8,867.9 L2309.1,865.4 L2304.8,875.4 Z" fill="#000"/>
<text x="2384.6" y="800.9" font-size="18" font-weight="bold" fill="#000" text-anchor="middle" >O<tspan font-size="11" dy="3">2</tspan></text>
<line x1="2386.1" y1="804.8" x2="2386.1" y2="869.4" stroke="#000" stroke-width="2.2"/>
<path d="M2381.8,865.4 L2386.1,867.9 L2390.4,865.4 L2386.1,875.4 Z" fill="#000"/>
<text x="2466.2" y="800.9" font-size="18" font-weight="bold" fill="#000" text-anchor="middle" >O<tspan font-size="11" dy="3">2</tspan></text>
<line x1="2467.7" y1="804.8" x2="2467.7" y2="869.4" stroke="#000" stroke-width="2.2"/>
<path d="M2463.4,865.4 L2467.7,867.9 L2472.0,865.4 L2467.7,875.4 Z" fill="#000"/>
<text x="2552.5" y="800.9" font-size="18" font-weight="bold" fill="#000" text-anchor="middle" >O<tspan font-size="11" dy="3">2</tspan></text>
<line x1="2554.0" y1="804.8" x2="2554.0" y2="869.4" stroke="#000" stroke-width="2.2"/>
<path d="M2549.7,865.4 L2554.0,867.9 L2558.3,865.4 L2554.0,875.4 Z" fill="#000"/>
<text x="2026.8" y="849.3" font-size="18" font-weight="bold" fill="#000" text-anchor="middle" >SiO<tspan font-size="12.5" dy="4">2</tspan></text>
<text x="2353.6" y="849.3" font-size="18" font-weight="bold" fill="#000" text-anchor="middle" >SiO<tspan font-size="12.5" dy="4">2</tspan></text>
<path d="M2023.1,850.6 L2020.5,868.9 M2350.8,853.2 L2348.7,872.8" stroke="#000" stroke-width="1.2"/>
<text x="2182.9" y="877.3" font-size="18" font-weight="bold" fill="#000" text-anchor="middle" >Fe-O</text>
<text x="2496.5" y="877.3" font-size="18" font-weight="bold" fill="#000" text-anchor="middle" >Fe-O</text>
<text x="2020.5" y="1100.3" font-size="19" font-weight="bold" fill="#1010e0" text-anchor="start" >Substrate</text>
<text x="2331.7" y="1116.0" font-size="19" font-weight="bold" fill="#000" text-anchor="middle" >(2)</text>
<path d="M1331.3,1257.4 L1957.5,1257.4 L1957.5,1511.7 L1957.5,1511.7 C1951.8,1511.0 1941.3,1506.9 1923.1,1507.5 C1904.8,1508.0 1878.2,1515.5 1847.9,1514.9 C1817.6,1514.3 1786.9,1502.9 1741.5,1503.8 C1696.1,1504.8 1631.9,1521.9 1575.5,1520.7 C1519.2,1519.5 1440.8,1497.3 1403.3,1496.9 C1365.8,1496.4 1362.7,1515.3 1350.7,1518.0 C1338.7,1520.7 1334.5,1513.8 1331.3,1513.0 Z" fill="#f0f0f0" stroke="#000" stroke-width="2.2" stroke-linejoin="miter"/>
<rect x="1331.3" y="1232.9" width="626.2" height="24.5" fill="#c8d4e4" stroke="#000" stroke-width="2.3"/>
<path d="M1347.8,1252 C1346.8,1246 1352.9,1243 1357.9,1244 C1364.0,1243 1369.0,1248 1368.0,1256 L1349.8,1257 Z" fill="#ffff10" stroke="#000" stroke-width="1.7"/>
<path d="M1418.5,1252 C1417.5,1246 1423.9,1243 1429.2,1244 C1435.7,1243 1441.0,1248 1440.0,1256 L1420.5,1257 Z" fill="#14e614" stroke="#000" stroke-width="1.7"/>
<path d="M1438.0,1252 C1437.0,1246 1441.6,1243 1445.2,1244 C1449.4,1243 1453.3,1248 1452.3,1256 L1440.0,1257 Z" fill="#ffff10" stroke="#000" stroke-width="1.7"/>
<path d="M1569.7,1252 C1568.7,1246 1573.8,1243 1577.8,1244 C1582.7,1243 1586.9,1248 1585.9,1256 L1571.7,1257 Z" fill="#14e614" stroke="#000" stroke-width="1.7"/>
<path d="M1619.0,1252 C1618.0,1246 1622.2,1243 1625.3,1244 C1629.2,1243 1632.7,1248 1631.7,1256 L1621.0,1257 Z" fill="#14e614" stroke="#000" stroke-width="1.7"/>
<path d="M1677.6,1252 C1676.6,1246 1681.6,1243 1685.7,1244 C1690.6,1243 1694.8,1248 1693.8,1256 L1679.6,1257 Z" fill="#ffff10" stroke="#000" stroke-width="1.7"/>
<path d="M1762.0,1252 C1761.0,1246 1765.9,1243 1769.8,1244 C1774.4,1243 1778.5,1248 1777.5,1256 L1764.0,1257 Z" fill="#14e614" stroke="#000" stroke-width="1.7"/>
<path d="M1750.5,1252 C1749.5,1246 1754.1,1243 1757.8,1244 C1762.1,1243 1766.0,1248 1765.0,1256 L1752.5,1257 Z" fill="#ffff10" stroke="#000" stroke-width="1.7"/>
<path d="M1916.5,1252 C1915.5,1246 1922.2,1243 1928.0,1244 C1934.8,1243 1940.4,1248 1939.4,1256 L1918.5,1257 Z" fill="#14e614" stroke="#000" stroke-width="1.7"/>
<circle cx="1355.9" cy="1279.6" r="10.8" fill="#fac800" stroke="#a88a00" stroke-width="1"/>
<circle cx="1421.2" cy="1284.4" r="10.8" fill="#fac800" stroke="#a88a00" stroke-width="1"/>
<circle cx="1467.1" cy="1284.4" r="10.8" fill="#fac800" stroke="#a88a00" stroke-width="1"/>
<circle cx="1530.0" cy="1279.6" r="10.8" fill="#fac800" stroke="#a88a00" stroke-width="1"/>
<circle cx="1578.6" cy="1273.6" r="10.8" fill="#fac800" stroke="#a88a00" stroke-width="1"/>
<circle cx="1635.8" cy="1279.0" r="10.8" fill="#fac800" stroke="#a88a00" stroke-width="1"/>
<circle cx="1679.5" cy="1276.3" r="10.8" fill="#fac800" stroke="#a88a00" stroke-width="1"/>
<circle cx="1723.0" cy="1276.3" r="10.8" fill="#fac800" stroke="#a88a00" stroke-width="1"/>
<circle cx="1782.3" cy="1273.6" r="10.8" fill="#fac800" stroke="#a88a00" stroke-width="1"/>
<circle cx="1836.9" cy="1276.3" r="10.8" fill="#fac800" stroke="#a88a00" stroke-width="1"/>
<circle cx="1872.5" cy="1284.4" r="10.8" fill="#fac800" stroke="#a88a00" stroke-width="1"/>
<circle cx="1918.6" cy="1284.4" r="10.8" fill="#fac800" stroke="#a88a00" stroke-width="1"/>
<line x1="1399.6" y1="1368.9" x2="1399.6" y2="1344.9" stroke="#000" stroke-width="2.2"/>
<path d="M1395.3,1348.9 L1399.6,1346.4 L1403.9,1348.9 L1399.6,1338.9 Z" fill="#000"/>
<circle cx="1399.6" cy="1379.4" r="10.6" fill="#fac800" stroke="#a88a00" stroke-width="1"/>
<text x="1399.6" y="1384.0" font-size="13" font-weight="bold" fill="#000" text-anchor="middle" >Si</text>
<line x1="1519.7" y1="1412.6" x2="1519.7" y2="1387.6" stroke="#000" stroke-width="2.2"/>
<path d="M1515.4,1391.6 L1519.7,1389.1 L1524.0,1391.6 L1519.7,1381.6 Z" fill="#000"/>
<circle cx="1519.7" cy="1423.1" r="10.6" fill="#fac800" stroke="#a88a00" stroke-width="1"/>
<text x="1519.7" y="1427.7" font-size="13" font-weight="bold" fill="#000" text-anchor="middle" >Si</text>
<line x1="1621.8" y1="1383.8" x2="1621.8" y2="1359.8" stroke="#000" stroke-width="2.2"/>
<path d="M1617.5,1363.8 L1621.8,1361.3 L1626.1,1363.8 L1621.8,1353.8 Z" fill="#000"/>
<circle cx="1621.8" cy="1394.3" r="10.6" fill="#fac800" stroke="#a88a00" stroke-width="1"/>
<text x="1621.8" y="1398.9" font-size="13" font-weight="bold" fill="#000" text-anchor="middle" >Si</text>
<line x1="1731.6" y1="1441.8" x2="1731.6" y2="1416.5" stroke="#000" stroke-width="2.2"/>
<path d="M1727.3,1420.5 L1731.6,1418.0 L1735.9,1420.5 L1731.6,1410.5 Z" fill="#000"/>
<circle cx="1731.6" cy="1452.3" r="10.6" fill="#fac800" stroke="#a88a00" stroke-width="1"/>
<text x="1731.6" y="1456.9" font-size="13" font-weight="bold" fill="#000" text-anchor="middle" >Si</text>
<line x1="1821.5" y1="1394.6" x2="1821.5" y2="1370.6" stroke="#000" stroke-width="2.2"/>
<path d="M1817.2,1374.6 L1821.5,1372.1 L1825.8,1374.6 L1821.5,1364.6 Z" fill="#000"/>
<circle cx="1821.5" cy="1405.1" r="10.6" fill="#fac800" stroke="#a88a00" stroke-width="1"/>
<text x="1821.5" y="1409.7" font-size="13" font-weight="bold" fill="#000" text-anchor="middle" >Si</text>
<line x1="1908.4" y1="1348.7" x2="1908.4" y2="1324.7" stroke="#000" stroke-width="2.2"/>
<path d="M1904.1,1328.7 L1908.4,1326.2 L1912.7,1328.7 L1908.4,1318.7 Z" fill="#000"/>
<circle cx="1908.4" cy="1359.2" r="10.6" fill="#fac800" stroke="#a88a00" stroke-width="1"/>
<text x="1908.4" y="1363.8" font-size="13" font-weight="bold" fill="#000" text-anchor="middle" >Si</text>
<text x="1398.1" y="1175.6" font-size="18" font-weight="bold" fill="#000" text-anchor="middle" >O<tspan font-size="11" dy="3">2</tspan></text>
<line x1="1399.6" y1="1179.7" x2="1399.6" y2="1243.3" stroke="#000" stroke-width="2.2"/>
<path d="M1395.3,1239.3 L1399.6,1241.8 L1403.9,1239.3 L1399.6,1249.3 Z" fill="#000"/>
<text x="1479.6" y="1175.6" font-size="18" font-weight="bold" fill="#000" text-anchor="middle" >O<tspan font-size="11" dy="3">2</tspan></text>
<line x1="1481.1" y1="1179.7" x2="1481.1" y2="1243.3" stroke="#000" stroke-width="2.2"/>
<path d="M1476.8,1239.3 L1481.1,1241.8 L1485.4,1239.3 L1481.1,1249.3 Z" fill="#000"/>
<text x="1560.9" y="1175.6" font-size="18" font-weight="bold" fill="#000" text-anchor="middle" >O<tspan font-size="11" dy="3">2</tspan></text>
<line x1="1562.4" y1="1179.7" x2="1562.4" y2="1243.3" stroke="#000" stroke-width="2.2"/>
<path d="M1558.1,1239.3 L1562.4,1241.8 L1566.7,1239.3 L1562.4,1249.3 Z" fill="#000"/>
<text x="1642.4" y="1175.6" font-size="18" font-weight="bold" fill="#000" text-anchor="middle" >O<tspan font-size="11" dy="3">2</tspan></text>
<line x1="1643.9" y1="1179.7" x2="1643.9" y2="1243.3" stroke="#000" stroke-width="2.2"/>
<path d="M1639.6,1239.3 L1643.9,1241.8 L1648.2,1239.3 L1643.9,1249.3 Z" fill="#000"/>
<text x="1723.9" y="1175.6" font-size="18" font-weight="bold" fill="#000" text-anchor="middle" >O<tspan font-size="11" dy="3">2</tspan></text>
<line x1="1725.4" y1="1179.7" x2="1725.4" y2="1243.3" stroke="#000" stroke-width="2.2"/>
<path d="M1721.1,1239.3 L1725.4,1241.8 L1729.7,1239.3 L1725.4,1249.3 Z" fill="#000"/>
<text x="1805.7" y="1175.6" font-size="18" font-weight="bold" fill="#000" text-anchor="middle" >O<tspan font-size="11" dy="3">2</tspan></text>
<line x1="1807.2" y1="1179.7" x2="1807.2" y2="1243.3" stroke="#000" stroke-width="2.2"/>
<path d="M1802.9,1239.3 L1807.2,1241.8 L1811.5,1239.3 L1807.2,1249.3 Z" fill="#000"/>
<text x="1896.1" y="1175.6" font-size="18" font-weight="bold" fill="#000" text-anchor="middle" >O<tspan font-size="11" dy="3">2</tspan></text>
<line x1="1897.6" y1="1179.7" x2="1897.6" y2="1243.3" stroke="#000" stroke-width="2.2"/>
<path d="M1893.3,1239.3 L1897.6,1241.8 L1901.9,1239.3 L1897.6,1249.3 Z" fill="#000"/>
<text x="1365.9" y="1222.3" font-size="18" font-weight="bold" fill="#000" text-anchor="middle" >SiO<tspan font-size="12.5" dy="4">2</tspan></text>
<text x="1440.4" y="1222.3" font-size="18" font-weight="bold" fill="#000" text-anchor="middle" >Fe<tspan font-size="12.5" dy="4">2</tspan><tspan dy="-4">SiO</tspan><tspan font-size="12.5" dy="4">4</tspan></text>
<text x="1603.4" y="1222.3" font-size="18" font-weight="bold" fill="#000" text-anchor="middle" >Fe<tspan font-size="12.5" dy="4">2</tspan><tspan dy="-4">SiO</tspan><tspan font-size="12.5" dy="4">4</tspan></text>
<text x="1767.4" y="1222.3" font-size="18" font-weight="bold" fill="#000" text-anchor="middle" >SiO<tspan font-size="12.5" dy="4">2</tspan></text>
<path d="M1362.4,1225.6 L1359.1,1245.8 M1438,1228.3 L1433.4,1247.2 M1595.8,1228.3 L1579.1,1249.9 M1762.6,1226.9 L1760.5,1249.9" stroke="#000" stroke-width="1.2"/>
<text x="1523.5" y="1252.0" font-size="18" font-weight="bold" fill="#000" text-anchor="middle" >Fe-O</text>
<text x="1842.5" y="1252.0" font-size="18" font-weight="bold" fill="#000" text-anchor="middle" >Fe-O</text>
<text x="1360.5" y="1478.7" font-size="19" font-weight="bold" fill="#1010e0" text-anchor="start" >Substrate</text>
<text x="1670.9" y="1494.1" font-size="19" font-weight="bold" fill="#000" text-anchor="middle" >(3)</text>
<path d="M1991.8,1258.5 L2617.3,1258.5 L2617.3,1512.2 L2617.3,1512.2 C2611.6,1511.5 2601.1,1507.4 2582.9,1507.9 C2564.7,1508.4 2538.1,1515.9 2507.8,1515.2 C2477.6,1514.5 2446.9,1503.0 2401.5,1503.9 C2356.2,1504.8 2292.0,1521.7 2235.7,1520.4 C2179.4,1519.1 2101.2,1496.7 2063.7,1496.2 C2026.3,1495.7 2023.2,1514.5 2011.2,1517.2 C1999.2,1519.9 1995.0,1513.0 1991.8,1512.2 Z" fill="#f0f0f0" stroke="#000" stroke-width="2.2" stroke-linejoin="miter"/>
<rect x="1991.8" y="1208.3" width="625.5000000000002" height="37.40000000000009" fill="#c8d4e4" stroke="#000" stroke-width="2.3"/>
<rect x="1991.8" y="1245.7" width="625.5000000000002" height="12.799999999999955" fill="#fcc8c8" stroke="#000" stroke-width="2.3"/>
<ellipse cx="2061" cy="1252.8" rx="4.5" ry="3.2" fill="#fff" stroke="#000" stroke-width="1.5"/>
<ellipse cx="2177.4" cy="1244.9" rx="4.5" ry="3.2" fill="#fff" stroke="#000" stroke-width="1.5"/>
<ellipse cx="2407.6" cy="1253.5" rx="4.5" ry="3.2" fill="#fff" stroke="#000" stroke-width="1.5"/>
<ellipse cx="2525.2" cy="1246.2" rx="4.5" ry="3.2" fill="#fff" stroke="#000" stroke-width="1.5"/>
<text x="2307.7" y="1230.5" font-size="18" font-weight="bold" fill="#000" text-anchor="middle" >Fe-O</text>
<text x="2307.5" y="1284.1" font-size="17.5" font-weight="bold" fill="#000" text-anchor="middle" >FeO-Fe<tspan font-size="11.5" dy="4">2</tspan><tspan dy="-4">SiO</tspan><tspan font-size="11.5" dy="4">4</tspan></text>
<path d="M2237.6,1252.2 L2254,1273.7" stroke="#000" stroke-width="1.2"/>
<text x="2018.7" y="1481.6" font-size="19" font-weight="bold" fill="#1010e0" text-anchor="start" >Substrate</text>
<text x="2329.1" y="1492.0" font-size="19" font-weight="bold" fill="#000" text-anchor="middle" >(4)</text>
</svg></body></html>
